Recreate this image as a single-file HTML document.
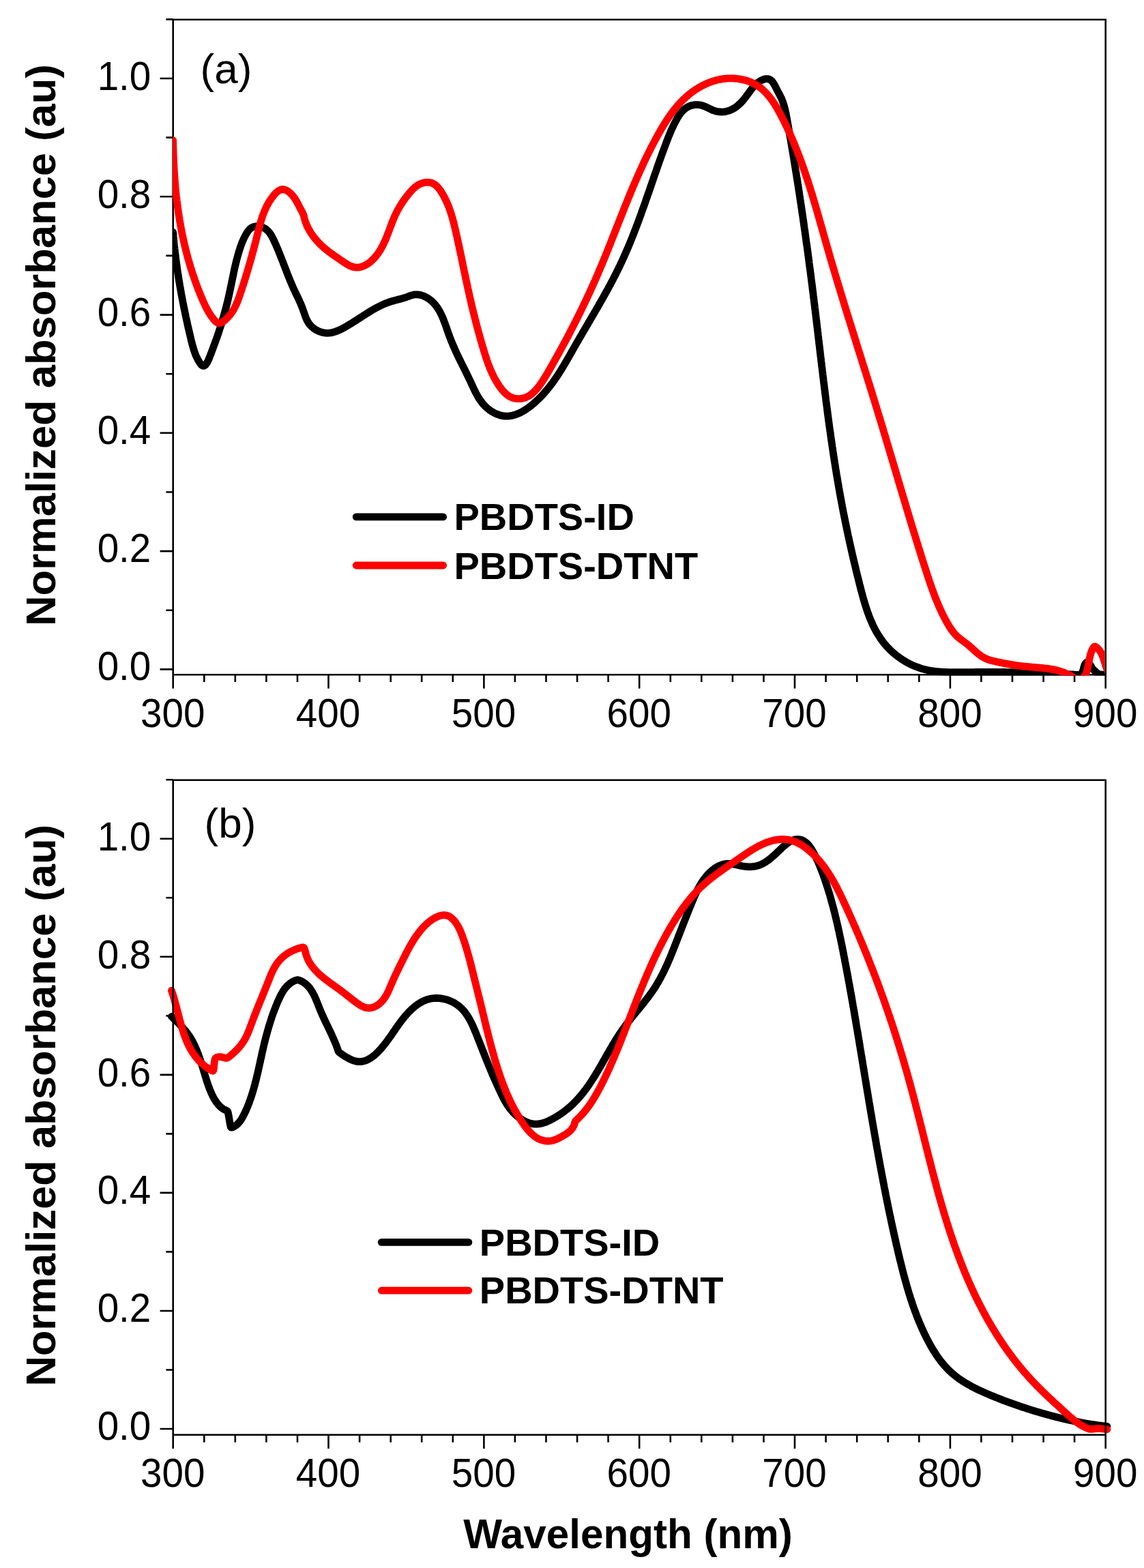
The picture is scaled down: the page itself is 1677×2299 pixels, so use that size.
<!DOCTYPE html>
<html lang="en"><head><meta charset="utf-8"><title>Normalized absorbance spectra</title>
<style>html,body{margin:0;padding:0;background:#fff}body{width:1677px;height:2299px;overflow:hidden}svg{display:block}text{font-family:"Liberation Sans",sans-serif;fill:#000}.b{font-weight:bold}</style></head><body>
<svg width="1677" height="2299" viewBox="0 0 1677 2299">
<rect width="1677" height="2299" fill="#fff"/>
<defs><clipPath id="ca"><rect x="253.0" y="28.8" width="1366.6" height="961.6"/></clipPath></defs>
<g id="plot-a">
<path d="M253.7,28.8 H1620.7 V989.2 H253.7 Z M253.7,989.2 v20.3 M299.3,989.2 v10.9 M344.8,989.2 v10.9 M390.4,989.2 v10.9 M436.0,989.2 v10.9 M481.5,989.2 v20.3 M527.1,989.2 v10.9 M572.7,989.2 v10.9 M618.2,989.2 v10.9 M663.8,989.2 v10.9 M709.4,989.2 v20.3 M754.9,989.2 v10.9 M800.5,989.2 v10.9 M846.1,989.2 v10.9 M891.6,989.2 v10.9 M937.2,989.2 v20.3 M982.8,989.2 v10.9 M1028.3,989.2 v10.9 M1073.9,989.2 v10.9 M1119.5,989.2 v10.9 M1165.0,989.2 v20.3 M1210.6,989.2 v10.9 M1256.2,989.2 v10.9 M1301.7,989.2 v10.9 M1347.3,989.2 v10.9 M1392.9,989.2 v20.3 M1438.4,989.2 v10.9 M1484.0,989.2 v10.9 M1529.6,989.2 v10.9 M1575.1,989.2 v10.9 M1620.7,989.2 v20.3 M253.7,981.4 h-19.1 M253.7,894.8 h-10.3 M253.7,808.1 h-19.1 M253.7,721.5 h-10.3 M253.7,634.8 h-19.1 M253.7,548.2 h-10.3 M253.7,461.6 h-19.1 M253.7,374.9 h-10.3 M253.7,288.3 h-19.1 M253.7,201.6 h-10.3 M253.7,115.0 h-19.1 M253.7,28.4 h-10.3" fill="none" stroke="#000" stroke-width="2.6" stroke-linecap="butt" stroke-linejoin="miter"/>
<g fill="none" stroke-width="10.8" stroke-linejoin="round" stroke-linecap="round" clip-path="url(#ca)">
<path stroke="#000" d="M253.7,340.5 L253.8,342.0 L254.0,343.5 L254.1,345.0 L254.2,346.6 L254.4,348.1 L254.5,349.6 L254.6,351.1 L254.8,352.6 L254.9,354.1 L255.1,355.6 L255.2,357.1 L255.4,358.6 L255.5,360.1 L255.7,361.6 L255.9,363.1 L256.0,364.6 L256.2,366.1 L256.4,367.6 L256.5,369.0 L256.7,370.5 L256.9,372.0 L257.1,373.5 L257.2,375.0 L257.4,376.5 L257.6,378.0 L257.8,379.5 L258.0,380.9 L258.2,382.4 L258.4,383.9 L258.6,385.4 L258.8,386.9 L259.0,388.3 L259.2,389.8 L259.4,391.3 L259.6,392.8 L259.8,394.2 L260.0,395.7 L260.2,397.2 L260.5,398.7 L260.7,400.1 L260.9,401.6 L261.1,403.1 L261.4,404.6 L261.6,406.0 L261.8,407.5 L262.0,409.0 L262.3,410.4 L262.5,411.9 L262.8,413.4 L263.0,414.9 L263.3,416.3 L263.5,417.8 L263.7,419.3 L264.0,420.7 L264.3,422.2 L264.5,423.7 L264.8,425.1 L265.0,426.6 L265.3,428.1 L265.6,429.5 L265.8,431.0 L266.1,432.5 L266.4,433.9 L266.6,435.4 L266.9,436.9 L267.2,438.3 L267.5,439.8 L267.8,441.3 L268.0,442.7 L268.3,444.2 L268.6,445.7 L268.9,447.1 L269.2,448.6 L269.5,450.1 L269.8,451.6 L270.1,453.0 L270.4,454.5 L270.7,456.0 L271.0,457.4 L271.3,458.9 L271.6,460.4 L271.9,461.8 L272.2,463.3 L272.5,464.8 L272.9,466.3 L273.2,467.7 L273.5,469.2 L273.8,470.7 L274.2,472.2 L274.5,473.6 L274.8,475.1 L275.1,476.6 L275.5,478.1 L275.8,479.6 L276.1,481.0 L276.5,482.5 L276.8,484.0 L277.2,485.5 L277.5,487.0 L277.9,488.5 L278.2,489.9 L278.6,491.4 L278.9,492.9 L279.3,494.4 L279.6,495.9 L280.0,497.4 L280.3,498.9 L280.7,500.4 L281.1,501.9 L281.5,503.4 L281.8,504.9 L282.2,506.3 L282.6,507.8 L283.1,509.3 L283.5,510.8 L283.9,512.2 L284.4,513.7 L284.9,515.2 L285.4,516.6 L285.9,518.0 L286.5,519.5 L287.0,520.9 L287.6,522.3 L288.3,523.7 L288.9,525.0 L289.6,526.4 L290.3,527.8 L291.1,529.1 L291.9,530.4 L292.7,531.7 L293.6,533.0 L294.4,534.1 L295.4,535.1 L296.3,535.9 L297.2,536.4 L298.2,536.5 L299.2,536.4 L300.1,535.9 L301.0,535.1 L302.0,534.1 L302.8,532.9 L303.7,531.5 L304.5,530.0 L305.3,528.3 L306.1,526.6 L306.8,524.8 L307.5,523.1 L308.1,521.3 L308.8,519.6 L309.4,518.0 L310.0,516.5 L310.5,515.0 L311.1,513.6 L311.6,512.2 L312.1,510.8 L312.6,509.5 L313.1,508.1 L313.6,506.8 L314.1,505.4 L314.6,504.1 L315.1,502.7 L315.6,501.3 L316.1,500.0 L316.6,498.6 L317.1,497.2 L317.6,495.8 L318.1,494.5 L318.6,493.1 L319.0,491.7 L319.5,490.3 L320.0,488.9 L320.5,487.5 L320.9,486.1 L321.4,484.6 L321.8,483.2 L322.3,481.8 L322.8,480.4 L323.2,479.0 L323.7,477.5 L324.1,476.1 L324.6,474.7 L325.0,473.2 L325.4,471.8 L325.9,470.3 L326.3,468.9 L326.7,467.5 L327.2,466.0 L327.6,464.6 L328.0,463.1 L328.4,461.6 L328.8,460.2 L329.2,458.7 L329.6,457.3 L330.0,455.8 L330.4,454.4 L330.8,452.9 L331.2,451.4 L331.6,450.0 L331.9,448.5 L332.3,447.0 L332.7,445.6 L333.0,444.1 L333.4,442.6 L333.8,441.2 L334.1,439.7 L334.5,438.2 L334.8,436.8 L335.1,435.3 L335.5,433.8 L335.8,432.4 L336.1,430.9 L336.4,429.4 L336.7,428.0 L337.1,426.5 L337.4,425.0 L337.7,423.6 L338.0,422.1 L338.3,420.6 L338.6,419.2 L338.9,417.7 L339.2,416.3 L339.5,414.8 L339.8,413.3 L340.1,411.9 L340.4,410.4 L340.7,408.9 L341.0,407.5 L341.3,406.0 L341.6,404.6 L341.9,403.1 L342.2,401.7 L342.5,400.2 L342.8,398.7 L343.1,397.3 L343.4,395.8 L343.7,394.4 L344.1,392.9 L344.4,391.5 L344.7,390.0 L345.1,388.6 L345.4,387.1 L345.8,385.7 L346.1,384.2 L346.5,382.8 L346.8,381.3 L347.2,379.9 L347.6,378.4 L348.0,377.0 L348.4,375.5 L348.8,374.1 L349.2,372.7 L349.6,371.2 L350.0,369.8 L350.5,368.3 L350.9,366.9 L351.4,365.5 L351.8,364.0 L352.3,362.6 L352.8,361.2 L353.3,359.7 L353.8,358.3 L354.4,356.9 L354.9,355.5 L355.5,354.1 L356.1,352.7 L356.7,351.3 L357.3,349.9 L358.0,348.5 L358.7,347.2 L359.4,345.8 L360.1,344.5 L360.9,343.2 L361.7,341.8 L362.5,340.5 L363.3,339.3 L364.2,338.1 L365.2,336.9 L366.2,335.8 L367.3,334.9 L368.5,334.1 L369.8,333.4 L371.1,332.8 L372.6,332.4 L374.0,332.1 L375.5,331.9 L377.0,331.9 L378.6,331.9 L380.1,332.1 L381.6,332.3 L383.1,332.7 L384.5,333.2 L385.9,333.7 L387.2,334.4 L388.5,335.1 L389.7,335.9 L390.8,336.8 L391.9,337.7 L392.9,338.7 L393.8,339.8 L394.8,340.9 L395.6,342.1 L396.5,343.3 L397.3,344.6 L398.1,345.8 L398.8,347.2 L399.5,348.5 L400.2,349.9 L400.9,351.2 L401.5,352.6 L402.2,354.0 L402.8,355.4 L403.5,356.8 L404.1,358.2 L404.7,359.6 L405.3,361.0 L405.9,362.4 L406.5,363.8 L407.1,365.2 L407.7,366.6 L408.3,368.0 L408.8,369.4 L409.4,370.8 L410.0,372.2 L410.5,373.6 L411.1,375.0 L411.6,376.4 L412.2,377.8 L412.7,379.2 L413.3,380.6 L413.8,382.0 L414.4,383.3 L414.9,384.7 L415.4,386.1 L416.0,387.5 L416.5,388.9 L417.1,390.3 L417.6,391.7 L418.1,393.1 L418.7,394.5 L419.2,395.9 L419.7,397.3 L420.3,398.7 L420.8,400.0 L421.3,401.4 L421.9,402.8 L422.4,404.2 L423.0,405.6 L423.5,407.0 L424.1,408.3 L424.7,409.7 L425.2,411.1 L425.8,412.5 L426.4,413.8 L426.9,415.2 L427.5,416.6 L428.1,417.9 L428.7,419.3 L429.3,420.7 L429.9,422.0 L430.5,423.4 L431.1,424.7 L431.8,426.1 L432.4,427.4 L433.0,428.8 L433.7,430.1 L434.3,431.5 L435.0,432.9 L435.6,434.2 L436.3,435.6 L436.9,436.9 L437.6,438.3 L438.2,439.6 L438.8,441.0 L439.4,442.4 L440.1,443.8 L440.7,445.1 L441.2,446.5 L441.8,447.9 L442.4,449.3 L442.9,450.7 L443.5,452.1 L444.0,453.6 L444.5,455.0 L445.0,456.4 L445.5,457.9 L446.0,459.3 L446.5,460.8 L447.0,462.2 L447.5,463.6 L448.0,465.0 L448.6,466.4 L449.2,467.7 L449.8,469.1 L450.5,470.4 L451.2,471.7 L452.0,473.0 L452.8,474.2 L453.7,475.4 L454.6,476.5 L455.6,477.6 L456.7,478.7 L457.8,479.7 L459.0,480.7 L460.2,481.6 L461.4,482.5 L462.7,483.3 L464.0,484.1 L465.3,484.8 L466.7,485.4 L468.1,486.0 L469.5,486.5 L470.9,487.0 L472.3,487.4 L473.8,487.7 L475.3,488.0 L476.7,488.2 L478.2,488.3 L479.6,488.4 L481.1,488.3 L482.5,488.2 L484.0,488.1 L485.4,487.9 L486.8,487.6 L488.3,487.2 L489.7,486.8 L491.1,486.4 L492.5,485.9 L493.9,485.4 L495.3,484.8 L496.7,484.2 L498.1,483.6 L499.5,482.9 L500.9,482.3 L502.2,481.5 L503.6,480.8 L505.0,480.1 L506.3,479.3 L507.6,478.5 L509.0,477.8 L510.3,477.0 L511.6,476.2 L512.9,475.4 L514.2,474.6 L515.5,473.8 L516.8,473.0 L518.1,472.2 L519.4,471.4 L520.7,470.6 L522.0,469.7 L523.2,468.9 L524.5,468.1 L525.8,467.3 L527.0,466.5 L528.3,465.6 L529.6,464.8 L530.8,464.0 L532.1,463.2 L533.3,462.4 L534.6,461.6 L535.9,460.8 L537.1,460.0 L538.4,459.2 L539.7,458.4 L540.9,457.6 L542.2,456.8 L543.5,456.1 L544.7,455.3 L546.0,454.5 L547.3,453.8 L548.6,453.1 L549.9,452.3 L551.2,451.6 L552.5,450.9 L553.8,450.2 L555.1,449.6 L556.4,448.9 L557.7,448.3 L559.0,447.6 L560.4,447.0 L561.7,446.4 L563.1,445.8 L564.4,445.2 L565.8,444.7 L567.2,444.1 L568.6,443.6 L570.0,443.1 L571.4,442.6 L572.8,442.1 L574.2,441.7 L575.7,441.3 L577.1,440.8 L578.6,440.5 L580.1,440.1 L581.6,439.7 L583.0,439.3 L584.5,438.9 L586.0,438.6 L587.5,438.2 L589.0,437.8 L590.5,437.4 L591.9,436.9 L593.4,436.5 L594.9,436.0 L596.3,435.5 L597.8,435.0 L599.2,434.4 L600.7,433.9 L602.1,433.3 L603.5,432.9 L605.0,432.5 L606.4,432.2 L607.9,431.9 L609.3,431.8 L610.8,431.8 L612.3,431.9 L613.8,432.1 L615.2,432.3 L616.7,432.6 L618.1,433.0 L619.6,433.5 L621.0,434.0 L622.3,434.6 L623.7,435.3 L625.0,436.0 L626.3,436.7 L627.6,437.5 L628.8,438.3 L630.0,439.2 L631.2,440.1 L632.3,441.0 L633.4,442.0 L634.4,443.0 L635.4,444.0 L636.4,445.0 L637.4,446.1 L638.3,447.2 L639.2,448.4 L640.0,449.5 L640.9,450.7 L641.7,451.9 L642.5,453.1 L643.2,454.4 L644.0,455.6 L644.7,456.9 L645.4,458.2 L646.1,459.6 L646.7,460.9 L647.4,462.3 L648.0,463.6 L648.6,465.0 L649.2,466.4 L649.8,467.8 L650.3,469.2 L650.9,470.7 L651.4,472.1 L652.0,473.5 L652.5,475.0 L653.0,476.4 L653.6,477.9 L654.1,479.3 L654.6,480.8 L655.1,482.3 L655.6,483.7 L656.1,485.2 L656.6,486.7 L657.1,488.1 L657.6,489.6 L658.2,491.0 L658.7,492.5 L659.2,493.9 L659.8,495.3 L660.3,496.7 L660.9,498.2 L661.4,499.6 L662.0,501.0 L662.6,502.4 L663.1,503.8 L663.7,505.1 L664.3,506.5 L664.9,507.9 L665.5,509.3 L666.1,510.6 L666.7,512.0 L667.3,513.3 L667.9,514.7 L668.5,516.0 L669.2,517.4 L669.8,518.7 L670.4,520.1 L671.1,521.4 L671.7,522.7 L672.3,524.1 L673.0,525.4 L673.6,526.7 L674.3,528.1 L674.9,529.4 L675.6,530.7 L676.2,532.0 L676.9,533.3 L677.5,534.7 L678.2,536.0 L678.9,537.3 L679.5,538.6 L680.2,540.0 L680.8,541.3 L681.5,542.6 L682.2,543.9 L682.8,545.3 L683.5,546.6 L684.1,547.9 L684.8,549.3 L685.4,550.6 L686.1,551.9 L686.7,553.3 L687.4,554.6 L688.0,556.0 L688.7,557.3 L689.3,558.7 L690.0,560.1 L690.6,561.4 L691.2,562.8 L691.9,564.2 L692.5,565.6 L693.1,566.9 L693.8,568.3 L694.4,569.7 L695.1,571.1 L695.7,572.4 L696.4,573.8 L697.1,575.1 L697.8,576.5 L698.5,577.8 L699.2,579.2 L700.0,580.5 L700.7,581.8 L701.5,583.1 L702.3,584.4 L703.1,585.6 L704.0,586.9 L704.9,588.1 L705.8,589.3 L706.7,590.5 L707.7,591.7 L708.6,592.9 L709.7,594.0 L710.7,595.1 L711.8,596.2 L712.9,597.2 L714.1,598.3 L715.3,599.3 L716.5,600.2 L717.7,601.2 L719.0,602.1 L720.2,602.9 L721.6,603.7 L722.9,604.5 L724.2,605.3 L725.6,605.9 L726.9,606.6 L728.3,607.2 L729.7,607.7 L731.1,608.2 L732.5,608.7 L733.9,609.1 L735.3,609.4 L736.7,609.7 L738.1,609.9 L739.5,610.0 L740.9,610.1 L742.4,610.2 L743.8,610.1 L745.2,610.1 L746.6,609.9 L748.0,609.8 L749.3,609.5 L750.7,609.3 L752.1,608.9 L753.5,608.6 L754.9,608.2 L756.2,607.7 L757.6,607.2 L759.0,606.7 L760.3,606.1 L761.7,605.5 L763.0,604.9 L764.3,604.2 L765.7,603.5 L767.0,602.7 L768.3,601.9 L769.6,601.1 L770.9,600.3 L772.2,599.4 L773.4,598.6 L774.7,597.7 L775.9,596.7 L777.2,595.8 L778.4,594.8 L779.6,593.8 L780.9,592.8 L782.0,591.8 L783.2,590.8 L784.4,589.7 L785.6,588.7 L786.7,587.6 L787.8,586.6 L789.0,585.5 L790.1,584.4 L791.2,583.3 L792.2,582.2 L793.3,581.1 L794.4,580.0 L795.4,578.9 L796.4,577.8 L797.5,576.6 L798.5,575.5 L799.5,574.3 L800.4,573.2 L801.4,572.0 L802.4,570.9 L803.3,569.7 L804.3,568.5 L805.2,567.4 L806.1,566.2 L807.1,565.0 L808.0,563.8 L808.9,562.6 L809.8,561.4 L810.6,560.2 L811.5,559.0 L812.4,557.8 L813.2,556.5 L814.1,555.3 L814.9,554.1 L815.8,552.9 L816.6,551.6 L817.4,550.4 L818.2,549.1 L819.0,547.9 L819.8,546.6 L820.6,545.4 L821.4,544.1 L822.2,542.9 L823.0,541.6 L823.8,540.3 L824.5,539.1 L825.3,537.8 L826.1,536.5 L826.8,535.2 L827.6,534.0 L828.4,532.7 L829.1,531.4 L829.9,530.1 L830.6,528.8 L831.4,527.5 L832.1,526.3 L832.8,525.0 L833.6,523.7 L834.3,522.4 L835.1,521.1 L835.8,519.8 L836.5,518.5 L837.3,517.2 L838.0,515.9 L838.7,514.6 L839.5,513.3 L840.2,512.0 L840.9,510.7 L841.7,509.4 L842.4,508.1 L843.2,506.8 L843.9,505.5 L844.6,504.2 L845.4,502.9 L846.1,501.7 L846.9,500.4 L847.6,499.1 L848.4,497.8 L849.1,496.5 L849.9,495.2 L850.6,493.9 L851.4,492.6 L852.1,491.3 L852.9,490.0 L853.6,488.7 L854.4,487.4 L855.2,486.1 L855.9,484.8 L856.7,483.5 L857.4,482.3 L858.2,481.0 L858.9,479.7 L859.7,478.4 L860.5,477.1 L861.2,475.8 L862.0,474.5 L862.7,473.2 L863.5,471.9 L864.3,470.6 L865.0,469.3 L865.8,468.0 L866.5,466.7 L867.3,465.4 L868.1,464.1 L868.8,462.8 L869.6,461.5 L870.3,460.2 L871.1,458.9 L871.8,457.6 L872.6,456.3 L873.3,455.0 L874.1,453.7 L874.9,452.4 L875.6,451.1 L876.4,449.8 L877.1,448.5 L877.9,447.2 L878.6,445.9 L879.3,444.6 L880.1,443.3 L880.8,442.0 L881.6,440.7 L882.3,439.4 L883.1,438.1 L883.8,436.8 L884.5,435.5 L885.3,434.2 L886.0,432.9 L886.7,431.6 L887.5,430.2 L888.2,428.9 L888.9,427.6 L889.6,426.3 L890.4,425.0 L891.1,423.7 L891.8,422.3 L892.5,421.0 L893.2,419.7 L893.9,418.4 L894.7,417.1 L895.4,415.7 L896.1,414.4 L896.8,413.1 L897.5,411.8 L898.2,410.4 L898.9,409.1 L899.5,407.8 L900.2,406.4 L900.9,405.1 L901.6,403.8 L902.3,402.4 L903.0,401.1 L903.6,399.7 L904.3,398.4 L905.0,397.1 L905.6,395.7 L906.3,394.4 L907.0,393.0 L907.6,391.7 L908.3,390.3 L908.9,389.0 L909.6,387.6 L910.2,386.3 L910.8,384.9 L911.5,383.6 L912.1,382.2 L912.7,380.8 L913.3,379.5 L914.0,378.1 L914.6,376.7 L915.2,375.4 L915.8,374.0 L916.4,372.6 L917.0,371.3 L917.6,369.9 L918.2,368.5 L918.8,367.1 L919.4,365.8 L920.0,364.4 L920.6,363.0 L921.2,361.6 L921.7,360.2 L922.3,358.9 L922.9,357.5 L923.5,356.1 L924.0,354.7 L924.6,353.3 L925.2,351.9 L925.7,350.5 L926.3,349.2 L926.8,347.8 L927.4,346.4 L927.9,345.0 L928.5,343.6 L929.0,342.2 L929.6,340.8 L930.1,339.4 L930.7,338.0 L931.2,336.6 L931.8,335.2 L932.3,333.8 L932.8,332.4 L933.4,331.0 L933.9,329.6 L934.4,328.2 L934.9,326.8 L935.5,325.4 L936.0,324.0 L936.5,322.6 L937.0,321.1 L937.5,319.7 L938.1,318.3 L938.6,316.9 L939.1,315.5 L939.6,314.1 L940.1,312.7 L940.6,311.3 L941.1,309.9 L941.6,308.4 L942.1,307.0 L942.6,305.6 L943.2,304.2 L943.7,302.8 L944.2,301.4 L944.7,300.0 L945.2,298.5 L945.7,297.1 L946.2,295.7 L946.6,294.3 L947.1,292.9 L947.6,291.5 L948.1,290.0 L948.6,288.6 L949.1,287.2 L949.6,285.8 L950.1,284.4 L950.6,283.0 L951.1,281.5 L951.6,280.1 L952.1,278.7 L952.6,277.3 L953.1,275.9 L953.5,274.5 L954.0,273.0 L954.5,271.6 L955.0,270.2 L955.5,268.8 L956.0,267.4 L956.5,265.9 L957.0,264.5 L957.5,263.1 L957.9,261.7 L958.4,260.3 L958.9,258.9 L959.4,257.4 L959.9,256.0 L960.4,254.6 L960.9,253.2 L961.4,251.8 L961.9,250.4 L962.4,248.9 L962.8,247.5 L963.3,246.1 L963.8,244.7 L964.3,243.3 L964.8,241.9 L965.3,240.5 L965.8,239.1 L966.3,237.6 L966.8,236.2 L967.3,234.8 L967.8,233.4 L968.3,232.0 L968.8,230.6 L969.3,229.2 L969.8,227.8 L970.3,226.4 L970.8,225.0 L971.3,223.6 L971.9,222.2 L972.4,220.8 L972.9,219.4 L973.4,218.0 L973.9,216.6 L974.4,215.2 L974.9,213.8 L975.5,212.4 L976.0,211.0 L976.5,209.6 L977.0,208.2 L977.6,206.8 L978.1,205.4 L978.7,204.0 L979.2,202.6 L979.8,201.2 L980.3,199.8 L980.9,198.4 L981.5,197.0 L982.0,195.7 L982.6,194.3 L983.2,192.9 L983.8,191.5 L984.4,190.1 L985.0,188.8 L985.7,187.4 L986.3,186.0 L987.0,184.6 L987.6,183.3 L988.3,181.9 L989.0,180.5 L989.7,179.2 L990.4,177.8 L991.1,176.5 L991.9,175.1 L992.6,173.8 L993.4,172.4 L994.2,171.1 L995.0,169.8 L995.9,168.6 L996.7,167.3 L997.6,166.1 L998.6,165.0 L999.5,163.8 L1000.5,162.7 L1001.5,161.7 L1002.6,160.7 L1003.7,159.8 L1004.9,158.9 L1006.1,158.0 L1007.3,157.3 L1008.6,156.6 L1009.9,156.0 L1011.3,155.4 L1012.7,154.9 L1014.1,154.5 L1015.6,154.2 L1017.1,153.9 L1018.6,153.7 L1020.1,153.6 L1021.6,153.6 L1023.1,153.6 L1024.6,153.7 L1026.1,154.0 L1027.6,154.3 L1029.0,154.6 L1030.5,155.1 L1031.9,155.6 L1033.3,156.1 L1034.7,156.7 L1036.1,157.4 L1037.4,158.0 L1038.8,158.7 L1040.2,159.4 L1041.6,160.0 L1042.9,160.6 L1044.3,161.3 L1045.7,161.8 L1047.1,162.4 L1048.5,162.8 L1050.0,163.2 L1051.5,163.5 L1052.9,163.8 L1054.4,163.9 L1055.9,164.0 L1057.4,164.1 L1058.9,164.1 L1060.4,164.0 L1061.9,163.8 L1063.4,163.6 L1064.8,163.3 L1066.3,162.9 L1067.7,162.5 L1069.2,162.1 L1070.5,161.5 L1071.9,161.0 L1073.2,160.3 L1074.5,159.6 L1075.8,158.9 L1077.1,158.1 L1078.3,157.3 L1079.5,156.5 L1080.6,155.6 L1081.8,154.6 L1082.9,153.6 L1084.0,152.6 L1085.1,151.6 L1086.2,150.5 L1087.2,149.4 L1088.2,148.3 L1089.2,147.1 L1090.2,146.0 L1091.2,144.8 L1092.1,143.6 L1093.1,142.4 L1094.0,141.1 L1094.9,139.9 L1095.8,138.6 L1096.7,137.4 L1097.6,136.2 L1098.5,134.9 L1099.4,133.7 L1100.3,132.4 L1101.3,131.2 L1102.2,130.0 L1103.1,128.9 L1104.1,127.7 L1105.1,126.6 L1106.1,125.5 L1107.2,124.4 L1108.3,123.4 L1109.4,122.4 L1110.5,121.4 L1111.7,120.5 L1113.0,119.6 L1114.2,118.8 L1115.6,118.1 L1116.9,117.4 L1118.3,116.8 L1119.7,116.3 L1121.1,115.9 L1122.5,115.7 L1123.8,115.6 L1125.2,115.6 L1126.5,115.8 L1127.7,116.2 L1128.9,116.8 L1130.0,117.5 L1131.1,118.5 L1132.1,119.6 L1133.0,120.8 L1133.9,122.1 L1134.8,123.6 L1135.6,125.0 L1136.4,126.6 L1137.2,128.1 L1138.0,129.6 L1138.7,131.2 L1139.5,132.6 L1140.2,134.0 L1141.0,135.4 L1141.7,136.8 L1142.4,138.1 L1143.1,139.4 L1143.8,140.7 L1144.4,142.0 L1145.1,143.3 L1145.7,144.6 L1146.2,146.0 L1146.8,147.3 L1147.3,148.7 L1147.8,150.1 L1148.2,151.5 L1148.7,152.9 L1149.1,154.3 L1149.5,155.7 L1149.9,157.1 L1150.3,158.5 L1150.7,160.0 L1151.0,161.4 L1151.3,162.9 L1151.7,164.3 L1152.0,165.8 L1152.3,167.3 L1152.6,168.8 L1152.8,170.2 L1153.1,171.7 L1153.4,173.2 L1153.7,174.7 L1153.9,176.2 L1154.2,177.6 L1154.5,179.1 L1154.7,180.6 L1155.0,182.1 L1155.2,183.6 L1155.5,185.1 L1155.8,186.5 L1156.0,188.0 L1156.3,189.5 L1156.5,191.0 L1156.8,192.5 L1157.1,194.0 L1157.3,195.4 L1157.6,196.9 L1157.8,198.4 L1158.1,199.9 L1158.3,201.4 L1158.6,202.9 L1158.9,204.3 L1159.1,205.8 L1159.4,207.3 L1159.6,208.8 L1159.9,210.3 L1160.1,211.8 L1160.4,213.2 L1160.6,214.7 L1160.9,216.2 L1161.1,217.7 L1161.4,219.2 L1161.6,220.6 L1161.9,222.1 L1162.1,223.6 L1162.4,225.1 L1162.6,226.6 L1162.9,228.1 L1163.1,229.5 L1163.3,231.0 L1163.6,232.5 L1163.8,234.0 L1164.1,235.5 L1164.3,236.9 L1164.6,238.4 L1164.8,239.9 L1165.0,241.4 L1165.3,242.9 L1165.5,244.3 L1165.8,245.8 L1166.0,247.3 L1166.2,248.8 L1166.5,250.3 L1166.7,251.8 L1167.0,253.2 L1167.2,254.7 L1167.4,256.2 L1167.7,257.7 L1167.9,259.2 L1168.1,260.6 L1168.4,262.1 L1168.6,263.6 L1168.8,265.1 L1169.1,266.6 L1169.3,268.0 L1169.5,269.5 L1169.8,271.0 L1170.0,272.5 L1170.2,274.0 L1170.4,275.5 L1170.7,276.9 L1170.9,278.4 L1171.1,279.9 L1171.4,281.4 L1171.6,282.9 L1171.8,284.3 L1172.0,285.8 L1172.3,287.3 L1172.5,288.8 L1172.7,290.3 L1172.9,291.7 L1173.2,293.2 L1173.4,294.7 L1173.6,296.2 L1173.8,297.7 L1174.1,299.2 L1174.3,300.6 L1174.5,302.1 L1174.7,303.6 L1174.9,305.1 L1175.2,306.6 L1175.4,308.0 L1175.6,309.5 L1175.8,311.0 L1176.0,312.5 L1176.2,314.0 L1176.5,315.4 L1176.7,316.9 L1176.9,318.4 L1177.1,319.9 L1177.3,321.4 L1177.5,322.9 L1177.8,324.3 L1178.0,325.8 L1178.2,327.3 L1178.4,328.8 L1178.6,330.3 L1178.8,331.7 L1179.0,333.2 L1179.2,334.7 L1179.4,336.2 L1179.7,337.7 L1179.9,339.2 L1180.1,340.6 L1180.3,342.1 L1180.5,343.6 L1180.7,345.1 L1180.9,346.6 L1181.1,348.1 L1181.3,349.5 L1181.5,351.0 L1181.7,352.5 L1181.9,354.0 L1182.1,355.5 L1182.3,357.0 L1182.5,358.4 L1182.8,359.9 L1183.0,361.4 L1183.2,362.9 L1183.4,364.4 L1183.6,365.9 L1183.8,367.3 L1184.0,368.8 L1184.2,370.3 L1184.4,371.8 L1184.6,373.3 L1184.8,374.8 L1185.0,376.2 L1185.2,377.7 L1185.4,379.2 L1185.6,380.7 L1185.8,382.2 L1186.0,383.7 L1186.1,385.1 L1186.3,386.6 L1186.5,388.1 L1186.7,389.6 L1186.9,391.1 L1187.1,392.6 L1187.3,394.1 L1187.5,395.5 L1187.7,397.0 L1187.9,398.5 L1188.1,400.0 L1188.3,401.5 L1188.5,403.0 L1188.7,404.5 L1188.9,405.9 L1189.1,407.4 L1189.2,408.9 L1189.4,410.4 L1189.6,411.9 L1189.8,413.4 L1190.0,414.9 L1190.2,416.4 L1190.4,417.8 L1190.6,419.3 L1190.8,420.8 L1190.9,422.3 L1191.1,423.8 L1191.3,425.3 L1191.5,426.8 L1191.7,428.3 L1191.9,429.7 L1192.1,431.2 L1192.2,432.7 L1192.4,434.2 L1192.6,435.7 L1192.8,437.2 L1193.0,438.7 L1193.2,440.2 L1193.3,441.7 L1193.5,443.2 L1193.7,444.6 L1193.9,446.1 L1194.1,447.6 L1194.3,449.1 L1194.4,450.6 L1194.6,452.1 L1194.8,453.6 L1195.0,455.1 L1195.2,456.6 L1195.3,458.1 L1195.5,459.5 L1195.7,461.0 L1195.9,462.5 L1196.0,464.0 L1196.2,465.5 L1196.4,467.0 L1196.6,468.5 L1196.8,470.0 L1196.9,471.5 L1197.1,473.0 L1197.3,474.5 L1197.5,476.0 L1197.6,477.5 L1197.8,478.9 L1198.0,480.4 L1198.2,481.9 L1198.4,483.4 L1198.5,484.9 L1198.7,486.4 L1198.9,487.9 L1199.1,489.4 L1199.2,490.9 L1199.4,492.4 L1199.6,493.9 L1199.8,495.4 L1199.9,496.9 L1200.1,498.4 L1200.3,499.8 L1200.5,501.3 L1200.6,502.8 L1200.8,504.3 L1201.0,505.8 L1201.2,507.3 L1201.4,508.8 L1201.5,510.3 L1201.7,511.8 L1201.9,513.3 L1202.1,514.8 L1202.2,516.3 L1202.4,517.8 L1202.6,519.3 L1202.8,520.8 L1202.9,522.2 L1203.1,523.7 L1203.3,525.2 L1203.5,526.7 L1203.7,528.2 L1203.8,529.7 L1204.0,531.2 L1204.2,532.7 L1204.4,534.2 L1204.5,535.7 L1204.7,537.2 L1204.9,538.7 L1205.1,540.2 L1205.3,541.7 L1205.4,543.2 L1205.6,544.6 L1205.8,546.1 L1206.0,547.6 L1206.1,549.1 L1206.3,550.6 L1206.5,552.1 L1206.7,553.6 L1206.9,555.1 L1207.1,556.6 L1207.2,558.1 L1207.4,559.6 L1207.6,561.1 L1207.8,562.6 L1208.0,564.0 L1208.1,565.5 L1208.3,567.0 L1208.5,568.5 L1208.7,570.0 L1208.9,571.5 L1209.1,573.0 L1209.3,574.5 L1209.4,576.0 L1209.6,577.5 L1209.8,579.0 L1210.0,580.5 L1210.2,581.9 L1210.4,583.4 L1210.6,584.9 L1210.7,586.4 L1210.9,587.9 L1211.1,589.4 L1211.3,590.9 L1211.5,592.4 L1211.7,593.9 L1211.9,595.4 L1212.1,596.9 L1212.3,598.3 L1212.5,599.8 L1212.7,601.3 L1212.9,602.8 L1213.0,604.3 L1213.2,605.8 L1213.4,607.3 L1213.6,608.8 L1213.8,610.3 L1214.0,611.7 L1214.2,613.2 L1214.4,614.7 L1214.6,616.2 L1214.8,617.7 L1215.0,619.2 L1215.2,620.7 L1215.4,622.2 L1215.6,623.6 L1215.8,625.1 L1216.0,626.6 L1216.2,628.1 L1216.4,629.6 L1216.6,631.1 L1216.9,632.6 L1217.1,634.0 L1217.3,635.5 L1217.5,637.0 L1217.7,638.5 L1217.9,640.0 L1218.1,641.5 L1218.3,642.9 L1218.5,644.4 L1218.7,645.9 L1219.0,647.4 L1219.2,648.9 L1219.4,650.4 L1219.6,651.8 L1219.8,653.3 L1220.0,654.8 L1220.3,656.3 L1220.5,657.8 L1220.7,659.3 L1220.9,660.7 L1221.1,662.2 L1221.4,663.7 L1221.6,665.2 L1221.8,666.7 L1222.0,668.1 L1222.3,669.6 L1222.5,671.1 L1222.7,672.6 L1222.9,674.1 L1223.2,675.5 L1223.4,677.0 L1223.6,678.5 L1223.9,680.0 L1224.1,681.4 L1224.3,682.9 L1224.6,684.4 L1224.8,685.9 L1225.0,687.3 L1225.3,688.8 L1225.5,690.3 L1225.8,691.8 L1226.0,693.2 L1226.2,694.7 L1226.5,696.2 L1226.7,697.7 L1227.0,699.1 L1227.2,700.6 L1227.5,702.1 L1227.7,703.6 L1228.0,705.0 L1228.2,706.5 L1228.5,708.0 L1228.7,709.4 L1229.0,710.9 L1229.2,712.4 L1229.5,713.9 L1229.7,715.3 L1230.0,716.8 L1230.3,718.3 L1230.5,719.7 L1230.8,721.2 L1231.0,722.7 L1231.3,724.1 L1231.6,725.6 L1231.8,727.1 L1232.1,728.5 L1232.4,730.0 L1232.6,731.5 L1232.9,732.9 L1233.2,734.4 L1233.5,735.9 L1233.7,737.3 L1234.0,738.8 L1234.3,740.3 L1234.6,741.7 L1234.8,743.2 L1235.1,744.7 L1235.4,746.1 L1235.7,747.6 L1236.0,749.0 L1236.2,750.5 L1236.5,752.0 L1236.8,753.4 L1237.1,754.9 L1237.4,756.4 L1237.7,757.8 L1238.0,759.3 L1238.3,760.7 L1238.6,762.2 L1238.9,763.7 L1239.2,765.1 L1239.5,766.6 L1239.8,768.1 L1240.1,769.5 L1240.4,771.0 L1240.7,772.4 L1241.0,773.9 L1241.3,775.4 L1241.6,776.8 L1241.9,778.3 L1242.2,779.8 L1242.5,781.2 L1242.8,782.7 L1243.1,784.1 L1243.4,785.6 L1243.8,787.1 L1244.1,788.5 L1244.4,790.0 L1244.7,791.5 L1245.0,792.9 L1245.3,794.4 L1245.7,795.8 L1246.0,797.3 L1246.3,798.8 L1246.6,800.2 L1247.0,801.7 L1247.3,803.2 L1247.6,804.6 L1248.0,806.1 L1248.3,807.6 L1248.6,809.0 L1249.0,810.5 L1249.3,812.0 L1249.6,813.4 L1250.0,814.9 L1250.3,816.4 L1250.6,817.8 L1251.0,819.3 L1251.3,820.8 L1251.7,822.2 L1252.0,823.7 L1252.4,825.2 L1252.7,826.6 L1253.1,828.1 L1253.4,829.6 L1253.8,831.0 L1254.1,832.5 L1254.5,834.0 L1254.8,835.4 L1255.2,836.9 L1255.5,838.4 L1255.9,839.9 L1256.3,841.3 L1256.6,842.8 L1257.0,844.3 L1257.4,845.8 L1257.7,847.2 L1258.1,848.7 L1258.5,850.2 L1258.8,851.7 L1259.2,853.1 L1259.6,854.6 L1259.9,856.1 L1260.3,857.6 L1260.7,859.0 L1261.1,860.5 L1261.4,862.0 L1261.8,863.5 L1262.2,865.0 L1262.6,866.4 L1263.0,867.9 L1263.4,869.4 L1263.8,870.9 L1264.2,872.3 L1264.6,873.8 L1265.0,875.3 L1265.4,876.8 L1265.8,878.2 L1266.2,879.7 L1266.7,881.2 L1267.1,882.6 L1267.5,884.1 L1268.0,885.5 L1268.4,887.0 L1268.9,888.4 L1269.3,889.9 L1269.8,891.3 L1270.3,892.8 L1270.8,894.2 L1271.2,895.6 L1271.7,897.1 L1272.2,898.5 L1272.8,899.9 L1273.3,901.3 L1273.8,902.7 L1274.3,904.1 L1274.9,905.5 L1275.4,906.9 L1276.0,908.3 L1276.6,909.7 L1277.2,911.0 L1277.8,912.4 L1278.4,913.8 L1279.0,915.1 L1279.6,916.5 L1280.2,917.8 L1280.9,919.1 L1281.6,920.5 L1282.2,921.8 L1282.9,923.1 L1283.6,924.4 L1284.3,925.7 L1285.0,927.0 L1285.8,928.2 L1286.5,929.5 L1287.3,930.7 L1288.1,932.0 L1288.9,933.2 L1289.7,934.5 L1290.5,935.7 L1291.3,936.9 L1292.2,938.1 L1293.0,939.3 L1293.9,940.5 L1294.8,941.6 L1295.7,942.8 L1296.6,943.9 L1297.6,945.1 L1298.6,946.2 L1299.5,947.3 L1300.5,948.4 L1301.5,949.5 L1302.6,950.5 L1303.6,951.6 L1304.6,952.7 L1305.7,953.7 L1306.8,954.7 L1307.9,955.7 L1309.0,956.7 L1310.1,957.7 L1311.3,958.7 L1312.4,959.6 L1313.6,960.6 L1314.8,961.5 L1316.0,962.4 L1317.2,963.3 L1318.4,964.2 L1319.6,965.0 L1320.8,965.9 L1322.1,966.7 L1323.3,967.5 L1324.6,968.3 L1325.9,969.1 L1327.2,969.9 L1328.5,970.6 L1329.8,971.4 L1331.1,972.1 L1332.4,972.8 L1333.8,973.5 L1335.1,974.1 L1336.5,974.8 L1337.8,975.4 L1339.2,976.0 L1340.6,976.6 L1342.0,977.1 L1343.4,977.7 L1344.8,978.2 L1346.2,978.7 L1347.6,979.2 L1349.0,979.7 L1350.4,980.1 L1351.8,980.6 L1353.3,981.0 L1354.7,981.3 L1356.2,981.7 L1357.6,982.0 L1359.1,982.4 L1360.5,982.7 L1362.0,983.0 L1363.4,983.2 L1364.9,983.5 L1366.4,983.7 L1367.8,983.9 L1369.3,984.1 L1370.8,984.3 L1372.3,984.5 L1373.8,984.6 L1375.3,984.8 L1376.8,984.9 L1378.3,985.0 L1379.8,985.1 L1381.3,985.2 L1382.8,985.3 L1384.3,985.4 L1385.8,985.5 L1387.3,985.5 L1388.8,985.6 L1390.3,985.6 L1391.8,985.6 L1393.3,985.7 L1394.8,985.7 L1396.4,985.7 L1397.9,985.7 L1399.4,985.7 L1400.9,985.7 L1402.4,985.7 L1403.9,985.7 L1405.4,985.7 L1407.0,985.7 L1408.5,985.7 L1410.0,985.7 L1411.5,985.7 L1413.0,985.6 L1414.5,985.6 L1416.0,985.6 L1417.6,985.6 L1419.1,985.6 L1420.6,985.6 L1422.1,985.6 L1423.6,985.6 L1425.1,985.6 L1426.6,985.6 L1428.1,985.6 L1429.6,985.5 L1431.1,985.5 L1432.6,985.5 L1434.1,985.5 L1435.6,985.5 L1437.1,985.5 L1438.6,985.5 L1440.1,985.5 L1441.6,985.5 L1443.1,985.5 L1444.6,985.5 L1446.1,985.5 L1447.6,985.5 L1449.1,985.5 L1450.6,985.5 L1452.1,985.5 L1453.6,985.5 L1455.1,985.5 L1456.6,985.5 L1458.1,985.5 L1459.6,985.5 L1461.1,985.5 L1462.6,985.5 L1464.1,985.5 L1465.6,985.5 L1467.1,985.5 L1468.6,985.5 L1470.1,985.5 L1471.6,985.5 L1473.1,985.5 L1474.6,985.5 L1476.1,985.6 L1477.6,985.6 L1479.1,985.6 L1480.5,985.6 L1482.0,985.6 L1483.5,985.6 L1485.0,985.6 L1486.5,985.7 L1488.0,985.7 L1489.5,985.7 L1491.0,985.7 L1492.5,985.7 L1494.0,985.8 L1495.5,985.8 L1497.0,985.8 L1498.5,985.8 L1499.9,985.9 L1501.4,985.9 L1502.9,985.9 L1504.4,986.0 L1505.9,986.0 L1507.4,986.0 L1508.9,986.1 L1510.4,986.1 L1511.9,986.1 L1513.4,986.2 L1514.9,986.2 L1516.3,986.3 L1517.8,986.3 L1519.3,986.3 L1520.8,986.4 L1522.3,986.4 L1523.8,986.5 L1525.3,986.5 L1526.8,986.6 L1528.3,986.6 L1529.8,986.7 L1531.3,986.7 L1532.8,986.8 L1534.3,986.9 L1535.8,986.9 L1537.2,987.0 L1538.7,987.1 L1540.2,987.1 L1541.7,987.2 L1543.2,987.3 L1544.7,987.3 L1546.2,987.4 L1547.7,987.5 L1549.2,987.6 L1550.7,987.6 L1552.2,987.7 L1553.7,987.8 L1555.2,987.9 L1556.7,988.0 L1558.2,988.1 L1559.7,988.1 L1561.2,988.2 L1562.7,988.3 L1564.2,988.4 L1565.7,988.5 L1567.2,988.6 L1568.7,988.7 L1570.2,988.8 L1571.7,988.9 L1573.2,989.0 L1574.7,989.1 L1576.2,989.3 L1577.7,989.4 L1579.2,989.5 L1580.7,989.6 L1582.2,989.7 L1583.6,989.4 L1584.6,988.6 L1585.5,987.3 L1586.3,986.0 L1586.9,984.7 L1587.5,983.4 L1588.0,981.9 L1588.4,980.5 L1588.7,979.0 L1589.1,977.5 L1589.6,976.1 L1590.1,974.7 L1590.8,973.4 L1591.6,972.2 L1592.6,971.2 L1593.8,971.2 L1595.1,971.8 L1596.2,972.8 L1597.3,973.8 L1598.2,975.0 L1599.1,976.2 L1599.8,977.6 L1600.6,979.0 L1601.4,980.3 L1602.4,981.4 L1603.5,982.5 L1604.6,983.5 L1605.7,984.5 L1606.8,985.5 L1608.0,986.5 L1609.2,987.4 L1610.5,988.0 L1611.9,988.5 L1613.4,988.8 L1614.9,989.1 L1616.4,989.2 L1617.9,989.2 L1619.4,989.2 L1620.9,989.2 L1622.4,989.2 L1623.9,989.2 L1624.9,989.2"/>
<path stroke="#f00" d="M253.7,205.7 L253.7,207.2 L253.7,208.7 L253.8,210.2 L253.8,211.7 L253.8,213.2 L253.9,214.7 L253.9,216.2 L253.9,217.8 L254.0,219.3 L254.0,220.8 L254.1,222.3 L254.1,223.8 L254.1,225.3 L254.2,226.8 L254.3,228.3 L254.3,229.8 L254.4,231.3 L254.4,232.8 L254.5,234.3 L254.6,235.8 L254.6,237.3 L254.7,238.8 L254.8,240.3 L254.8,241.8 L254.9,243.3 L255.0,244.8 L255.1,246.3 L255.2,247.8 L255.3,249.3 L255.3,250.8 L255.4,252.3 L255.5,253.8 L255.6,255.3 L255.7,256.8 L255.8,258.3 L255.9,259.8 L256.1,261.3 L256.2,262.8 L256.3,264.3 L256.4,265.8 L256.5,267.3 L256.6,268.8 L256.8,270.3 L256.9,271.8 L257.0,273.2 L257.2,274.7 L257.3,276.2 L257.5,277.7 L257.6,279.2 L257.8,280.7 L257.9,282.2 L258.1,283.7 L258.2,285.2 L258.4,286.7 L258.5,288.1 L258.7,289.6 L258.9,291.1 L259.1,292.6 L259.2,294.1 L259.4,295.6 L259.6,297.1 L259.8,298.5 L260.0,300.0 L260.2,301.5 L260.4,303.0 L260.6,304.5 L260.8,306.0 L261.0,307.4 L261.2,308.9 L261.4,310.4 L261.6,311.9 L261.8,313.4 L262.1,314.8 L262.3,316.3 L262.5,317.8 L262.8,319.3 L263.0,320.7 L263.2,322.2 L263.5,323.7 L263.7,325.2 L264.0,326.6 L264.3,328.1 L264.5,329.6 L264.8,331.1 L265.0,332.5 L265.3,334.0 L265.6,335.5 L265.9,336.9 L266.2,338.4 L266.4,339.9 L266.7,341.3 L267.0,342.8 L267.3,344.3 L267.6,345.7 L267.9,347.2 L268.3,348.7 L268.6,350.1 L268.9,351.6 L269.2,353.0 L269.5,354.5 L269.9,356.0 L270.2,357.4 L270.5,358.9 L270.9,360.3 L271.2,361.8 L271.6,363.2 L271.9,364.7 L272.3,366.2 L272.7,367.6 L273.0,369.1 L273.4,370.5 L273.8,372.0 L274.2,373.4 L274.6,374.9 L274.9,376.3 L275.3,377.8 L275.7,379.2 L276.1,380.6 L276.6,382.1 L277.0,383.5 L277.4,385.0 L277.8,386.4 L278.2,387.9 L278.7,389.3 L279.1,390.7 L279.5,392.2 L280.0,393.6 L280.4,395.0 L280.9,396.5 L281.3,397.9 L281.8,399.4 L282.3,400.8 L282.7,402.2 L283.2,403.6 L283.7,405.1 L284.2,406.5 L284.7,407.9 L285.2,409.4 L285.7,410.8 L286.2,412.2 L286.7,413.6 L287.2,415.1 L287.7,416.5 L288.2,417.9 L288.8,419.3 L289.3,420.7 L289.9,422.2 L290.4,423.6 L290.9,425.0 L291.5,426.4 L292.1,427.8 L292.6,429.2 L293.2,430.7 L293.8,432.1 L294.4,433.5 L294.9,434.9 L295.5,436.3 L296.1,437.7 L296.7,439.1 L297.3,440.5 L298.0,441.9 L298.6,443.3 L299.2,444.7 L299.9,446.1 L300.5,447.5 L301.2,448.8 L301.8,450.2 L302.5,451.5 L303.2,452.9 L304.0,454.2 L304.7,455.5 L305.4,456.9 L306.2,458.2 L307.0,459.4 L307.8,460.7 L308.6,462.0 L309.5,463.2 L310.3,464.4 L311.2,465.6 L312.1,466.8 L313.0,468.0 L314.0,469.1 L315.0,470.2 L316.0,471.2 L317.1,472.2 L318.1,472.9 L319.3,473.5 L320.5,473.8 L321.7,473.8 L323.0,473.6 L324.3,473.2 L325.6,472.5 L326.9,471.7 L328.3,470.7 L329.6,469.6 L330.8,468.5 L332.0,467.3 L333.2,466.1 L334.3,464.9 L335.4,463.7 L336.5,462.5 L337.5,461.2 L338.4,460.0 L339.4,458.7 L340.2,457.4 L341.1,456.1 L341.9,454.8 L342.7,453.5 L343.4,452.2 L344.1,450.9 L344.8,449.6 L345.5,448.2 L346.1,446.9 L346.7,445.5 L347.3,444.1 L347.8,442.8 L348.4,441.4 L348.9,440.0 L349.4,438.6 L349.9,437.3 L350.4,435.9 L350.9,434.5 L351.4,433.1 L351.9,431.7 L352.4,430.3 L352.8,428.9 L353.3,427.5 L353.8,426.0 L354.2,424.6 L354.7,423.2 L355.2,421.8 L355.6,420.4 L356.1,419.0 L356.6,417.5 L357.0,416.1 L357.5,414.7 L357.9,413.3 L358.4,411.8 L358.8,410.4 L359.3,409.0 L359.7,407.5 L360.2,406.1 L360.6,404.6 L361.0,403.2 L361.5,401.8 L361.9,400.3 L362.3,398.9 L362.8,397.4 L363.2,396.0 L363.6,394.5 L364.1,393.1 L364.5,391.6 L364.9,390.2 L365.3,388.7 L365.7,387.3 L366.2,385.8 L366.6,384.4 L367.0,382.9 L367.4,381.5 L367.8,380.0 L368.2,378.6 L368.6,377.1 L369.0,375.6 L369.4,374.2 L369.8,372.7 L370.2,371.3 L370.6,369.8 L371.0,368.4 L371.4,366.9 L371.8,365.5 L372.2,364.0 L372.5,362.5 L372.9,361.1 L373.3,359.6 L373.7,358.2 L374.1,356.7 L374.4,355.3 L374.8,353.8 L375.2,352.4 L375.5,350.9 L375.9,349.5 L376.3,348.0 L376.6,346.6 L377.0,345.1 L377.4,343.7 L377.7,342.2 L378.1,340.8 L378.5,339.3 L378.8,337.9 L379.2,336.5 L379.5,335.0 L379.9,333.6 L380.3,332.1 L380.7,330.7 L381.1,329.3 L381.5,327.9 L381.9,326.4 L382.3,325.0 L382.7,323.6 L383.1,322.2 L383.6,320.8 L384.1,319.4 L384.5,317.9 L385.0,316.5 L385.5,315.1 L386.0,313.7 L386.6,312.4 L387.1,311.0 L387.7,309.6 L388.3,308.2 L388.9,306.8 L389.5,305.5 L390.1,304.1 L390.8,302.7 L391.5,301.4 L392.2,300.0 L393.0,298.7 L393.7,297.4 L394.5,296.0 L395.3,294.7 L396.2,293.4 L397.1,292.1 L398.0,290.8 L398.9,289.5 L399.9,288.2 L400.9,286.9 L401.9,285.6 L403.0,284.4 L404.1,283.3 L405.2,282.2 L406.3,281.2 L407.5,280.3 L408.7,279.5 L409.9,278.8 L411.1,278.3 L412.4,277.9 L413.6,277.7 L414.9,277.7 L416.3,277.9 L417.6,278.2 L418.9,278.7 L420.2,279.3 L421.5,280.1 L422.8,280.9 L424.0,281.9 L425.2,282.9 L426.4,284.0 L427.5,285.1 L428.5,286.3 L429.5,287.4 L430.4,288.7 L431.4,289.9 L432.2,291.2 L433.1,292.5 L433.9,293.8 L434.6,295.1 L435.4,296.4 L436.1,297.8 L436.9,299.1 L437.6,300.5 L438.3,301.8 L438.9,303.2 L439.6,304.5 L440.3,305.8 L441.0,307.1 L441.7,308.4 L442.4,309.7 L443.1,311.0 L443.7,312.3 L444.3,313.6 L444.9,315.0 L445.3,316.4 L445.7,317.8 L446.0,319.3 L446.4,320.8 L446.8,322.2 L447.2,323.6 L447.7,325.1 L448.2,326.5 L448.8,327.9 L449.3,329.3 L449.9,330.6 L450.5,332.0 L451.2,333.4 L451.9,334.7 L452.6,336.0 L453.3,337.4 L454.1,338.7 L454.8,340.0 L455.6,341.2 L456.5,342.5 L457.3,343.7 L458.2,345.0 L459.1,346.2 L460.0,347.4 L460.9,348.6 L461.8,349.8 L462.8,350.9 L463.8,352.1 L464.8,353.2 L465.8,354.3 L466.8,355.4 L467.8,356.5 L468.9,357.6 L469.9,358.6 L471.0,359.7 L472.1,360.7 L473.2,361.7 L474.3,362.7 L475.4,363.6 L476.5,364.6 L477.6,365.5 L478.7,366.4 L479.9,367.3 L481.0,368.2 L482.2,369.1 L483.4,370.0 L484.5,370.8 L485.7,371.7 L486.9,372.6 L488.1,373.4 L489.3,374.3 L490.6,375.1 L491.8,376.0 L493.1,376.8 L494.3,377.7 L495.6,378.6 L496.9,379.5 L498.2,380.4 L499.5,381.3 L500.8,382.2 L502.2,383.1 L503.5,384.0 L504.9,385.0 L506.3,385.9 L507.6,386.7 L509.0,387.6 L510.4,388.4 L511.8,389.1 L513.2,389.8 L514.6,390.4 L516.0,390.9 L517.4,391.4 L518.8,391.7 L520.2,391.9 L521.6,392.1 L522.9,392.1 L524.3,392.1 L525.7,392.0 L527.0,391.8 L528.3,391.6 L529.7,391.2 L531.0,390.8 L532.3,390.3 L533.6,389.8 L534.9,389.2 L536.1,388.5 L537.4,387.8 L538.6,387.1 L539.8,386.2 L541.0,385.4 L542.2,384.5 L543.4,383.5 L544.5,382.5 L545.6,381.5 L546.7,380.4 L547.8,379.3 L548.8,378.2 L549.9,377.0 L550.9,375.8 L551.8,374.6 L552.8,373.4 L553.7,372.2 L554.6,371.0 L555.4,369.7 L556.3,368.4 L557.1,367.1 L557.9,365.9 L558.6,364.5 L559.4,363.2 L560.1,361.9 L560.8,360.6 L561.5,359.2 L562.1,357.9 L562.8,356.5 L563.4,355.1 L564.1,353.7 L564.7,352.4 L565.3,351.0 L565.9,349.6 L566.4,348.2 L567.0,346.8 L567.6,345.4 L568.1,343.9 L568.7,342.5 L569.2,341.1 L569.7,339.7 L570.3,338.3 L570.8,336.9 L571.3,335.4 L571.9,334.0 L572.4,332.6 L572.9,331.2 L573.5,329.8 L574.0,328.4 L574.5,326.9 L575.1,325.5 L575.6,324.1 L576.2,322.8 L576.8,321.4 L577.3,320.0 L577.9,318.6 L578.5,317.3 L579.1,315.9 L579.8,314.5 L580.4,313.2 L581.1,311.9 L581.7,310.6 L582.4,309.2 L583.1,307.9 L583.8,306.6 L584.5,305.4 L585.3,304.1 L586.0,302.8 L586.8,301.5 L587.6,300.3 L588.4,299.0 L589.2,297.8 L590.0,296.5 L590.8,295.3 L591.7,294.1 L592.6,292.8 L593.5,291.6 L594.3,290.4 L595.3,289.2 L596.2,288.0 L597.1,286.8 L598.1,285.6 L599.0,284.4 L600.0,283.2 L601.0,282.0 L602.0,280.8 L603.1,279.7 L604.1,278.5 L605.2,277.4 L606.3,276.3 L607.5,275.3 L608.6,274.3 L609.8,273.4 L611.1,272.5 L612.3,271.6 L613.6,270.9 L615.0,270.2 L616.3,269.5 L617.7,269.0 L619.2,268.5 L620.6,268.1 L622.1,267.8 L623.5,267.5 L625.0,267.4 L626.4,267.3 L627.8,267.3 L629.3,267.5 L630.6,267.7 L632.0,268.0 L633.3,268.4 L634.6,269.0 L635.9,269.6 L637.1,270.3 L638.2,271.2 L639.3,272.1 L640.4,273.1 L641.4,274.2 L642.4,275.3 L643.4,276.5 L644.4,277.7 L645.3,278.9 L646.1,280.2 L647.0,281.6 L647.8,282.9 L648.6,284.2 L649.4,285.6 L650.2,286.9 L650.9,288.3 L651.6,289.6 L652.3,291.0 L653.0,292.3 L653.7,293.7 L654.3,295.1 L655.0,296.5 L655.6,297.9 L656.2,299.3 L656.8,300.7 L657.3,302.1 L657.9,303.5 L658.4,304.9 L658.9,306.3 L659.4,307.7 L659.9,309.1 L660.4,310.5 L660.9,312.0 L661.3,313.4 L661.8,314.8 L662.2,316.3 L662.6,317.7 L663.1,319.1 L663.5,320.6 L663.9,322.0 L664.2,323.5 L664.6,324.9 L665.0,326.4 L665.4,327.8 L665.7,329.3 L666.1,330.7 L666.4,332.2 L666.8,333.6 L667.1,335.1 L667.5,336.6 L667.8,338.0 L668.1,339.5 L668.5,340.9 L668.8,342.4 L669.1,343.9 L669.5,345.3 L669.8,346.8 L670.1,348.3 L670.4,349.7 L670.7,351.2 L671.1,352.7 L671.4,354.1 L671.7,355.6 L672.0,357.0 L672.3,358.5 L672.7,360.0 L673.0,361.4 L673.3,362.9 L673.6,364.4 L673.9,365.8 L674.2,367.3 L674.5,368.8 L674.8,370.2 L675.1,371.7 L675.4,373.2 L675.8,374.7 L676.1,376.1 L676.4,377.6 L676.7,379.1 L677.0,380.5 L677.3,382.0 L677.6,383.5 L677.9,384.9 L678.2,386.4 L678.5,387.9 L678.8,389.3 L679.1,390.8 L679.4,392.3 L679.7,393.7 L680.0,395.2 L680.3,396.7 L680.6,398.1 L681.0,399.6 L681.3,401.1 L681.6,402.6 L681.9,404.0 L682.2,405.5 L682.5,407.0 L682.8,408.4 L683.1,409.9 L683.4,411.4 L683.7,412.8 L684.1,414.3 L684.4,415.8 L684.7,417.2 L685.0,418.7 L685.3,420.2 L685.6,421.6 L685.9,423.1 L686.3,424.6 L686.6,426.0 L686.9,427.5 L687.2,429.0 L687.6,430.4 L687.9,431.9 L688.2,433.3 L688.5,434.8 L688.9,436.3 L689.2,437.7 L689.5,439.2 L689.9,440.7 L690.2,442.1 L690.6,443.6 L690.9,445.0 L691.2,446.5 L691.6,448.0 L691.9,449.4 L692.3,450.9 L692.6,452.3 L693.0,453.8 L693.3,455.3 L693.7,456.7 L694.0,458.2 L694.4,459.6 L694.8,461.1 L695.1,462.5 L695.5,464.0 L695.9,465.4 L696.2,466.9 L696.6,468.4 L697.0,469.8 L697.3,471.3 L697.7,472.7 L698.1,474.2 L698.5,475.6 L698.9,477.1 L699.2,478.5 L699.6,480.0 L700.0,481.4 L700.4,482.9 L700.8,484.3 L701.2,485.8 L701.6,487.2 L702.0,488.6 L702.4,490.1 L702.8,491.5 L703.2,493.0 L703.6,494.4 L704.0,495.9 L704.4,497.3 L704.8,498.8 L705.2,500.2 L705.6,501.6 L706.1,503.1 L706.5,504.5 L706.9,506.0 L707.3,507.4 L707.7,508.8 L708.2,510.3 L708.6,511.7 L709.0,513.1 L709.4,514.6 L709.9,516.0 L710.3,517.4 L710.8,518.9 L711.2,520.3 L711.7,521.7 L712.1,523.2 L712.6,524.6 L713.1,526.0 L713.5,527.4 L714.0,528.8 L714.5,530.2 L715.0,531.7 L715.5,533.1 L716.1,534.5 L716.6,535.9 L717.1,537.3 L717.7,538.7 L718.2,540.0 L718.8,541.4 L719.4,542.8 L720.0,544.2 L720.6,545.5 L721.2,546.9 L721.9,548.3 L722.5,549.6 L723.2,551.0 L723.8,552.3 L724.5,553.7 L725.2,555.0 L726.0,556.3 L726.7,557.6 L727.5,558.9 L728.2,560.2 L729.0,561.5 L729.9,562.8 L730.7,564.1 L731.5,565.4 L732.4,566.7 L733.3,567.9 L734.2,569.2 L735.1,570.4 L736.1,571.6 L737.1,572.8 L738.1,573.9 L739.1,575.0 L740.2,576.1 L741.3,577.1 L742.4,578.1 L743.5,579.0 L744.7,579.8 L745.9,580.7 L747.2,581.4 L748.5,582.1 L749.8,582.7 L751.1,583.2 L752.5,583.7 L754.0,584.0 L755.4,584.3 L756.9,584.5 L758.4,584.6 L759.9,584.7 L761.4,584.7 L762.9,584.6 L764.4,584.4 L765.9,584.1 L767.3,583.8 L768.8,583.4 L770.2,582.9 L771.5,582.4 L772.9,581.8 L774.2,581.1 L775.4,580.4 L776.7,579.6 L777.9,578.8 L779.1,577.9 L780.2,576.9 L781.3,576.0 L782.5,574.9 L783.5,573.9 L784.6,572.8 L785.6,571.7 L786.6,570.5 L787.6,569.4 L788.6,568.2 L789.5,567.0 L790.5,565.7 L791.4,564.5 L792.3,563.2 L793.1,562.0 L794.0,560.7 L794.9,559.5 L795.7,558.2 L796.5,556.9 L797.3,555.7 L798.1,554.4 L798.9,553.1 L799.7,551.8 L800.5,550.5 L801.3,549.3 L802.0,548.0 L802.8,546.7 L803.5,545.4 L804.3,544.1 L805.0,542.8 L805.8,541.5 L806.5,540.2 L807.3,538.9 L808.0,537.6 L808.7,536.3 L809.5,535.0 L810.2,533.7 L810.9,532.4 L811.7,531.1 L812.4,529.8 L813.1,528.5 L813.9,527.2 L814.6,525.9 L815.3,524.6 L816.1,523.3 L816.8,522.0 L817.5,520.7 L818.2,519.4 L819.0,518.1 L819.7,516.8 L820.4,515.5 L821.1,514.2 L821.8,512.9 L822.6,511.5 L823.3,510.2 L824.0,508.9 L824.7,507.6 L825.4,506.3 L826.1,505.0 L826.8,503.7 L827.5,502.3 L828.3,501.0 L829.0,499.7 L829.7,498.4 L830.4,497.1 L831.1,495.7 L831.8,494.4 L832.5,493.1 L833.2,491.8 L833.9,490.4 L834.6,489.1 L835.3,487.8 L835.9,486.5 L836.6,485.1 L837.3,483.8 L838.0,482.5 L838.7,481.1 L839.4,479.8 L840.1,478.5 L840.8,477.1 L841.4,475.8 L842.1,474.5 L842.8,473.1 L843.5,471.8 L844.1,470.5 L844.8,469.1 L845.5,467.8 L846.2,466.4 L846.8,465.1 L847.5,463.8 L848.2,462.4 L848.8,461.1 L849.5,459.7 L850.2,458.4 L850.8,457.0 L851.5,455.7 L852.1,454.3 L852.8,453.0 L853.5,451.7 L854.1,450.3 L854.8,449.0 L855.4,447.6 L856.1,446.2 L856.7,444.9 L857.4,443.5 L858.0,442.2 L858.6,440.8 L859.3,439.5 L859.9,438.1 L860.6,436.8 L861.2,435.4 L861.8,434.0 L862.5,432.7 L863.1,431.3 L863.7,430.0 L864.4,428.6 L865.0,427.2 L865.6,425.9 L866.2,424.5 L866.9,423.1 L867.5,421.8 L868.1,420.4 L868.7,419.0 L869.3,417.7 L869.9,416.3 L870.5,414.9 L871.2,413.6 L871.8,412.2 L872.4,410.8 L873.0,409.5 L873.6,408.1 L874.2,406.7 L874.8,405.3 L875.4,403.9 L876.0,402.6 L876.6,401.2 L877.2,399.8 L877.7,398.4 L878.3,397.1 L878.9,395.7 L879.5,394.3 L880.1,392.9 L880.7,391.5 L881.3,390.1 L881.8,388.8 L882.4,387.4 L883.0,386.0 L883.6,384.6 L884.1,383.2 L884.7,381.8 L885.3,380.4 L885.9,379.0 L886.4,377.7 L887.0,376.3 L887.6,374.9 L888.1,373.5 L888.7,372.1 L889.2,370.7 L889.8,369.3 L890.4,367.9 L890.9,366.5 L891.5,365.1 L892.0,363.7 L892.6,362.3 L893.2,361.0 L893.7,359.6 L894.3,358.2 L894.8,356.8 L895.4,355.4 L895.9,354.0 L896.5,352.6 L897.0,351.2 L897.6,349.8 L898.1,348.4 L898.7,347.0 L899.2,345.6 L899.8,344.2 L900.4,342.8 L900.9,341.4 L901.5,340.0 L902.0,338.6 L902.6,337.2 L903.1,335.8 L903.6,334.4 L904.2,333.0 L904.7,331.6 L905.3,330.2 L905.8,328.8 L906.4,327.4 L906.9,326.0 L907.5,324.7 L908.0,323.3 L908.6,321.9 L909.2,320.5 L909.7,319.1 L910.3,317.7 L910.8,316.3 L911.4,314.9 L911.9,313.5 L912.5,312.1 L913.0,310.7 L913.6,309.3 L914.1,307.9 L914.7,306.5 L915.2,305.1 L915.8,303.7 L916.4,302.3 L916.9,300.9 L917.5,299.6 L918.0,298.2 L918.6,296.8 L919.2,295.4 L919.7,294.0 L920.3,292.6 L920.9,291.2 L921.4,289.8 L922.0,288.4 L922.6,287.0 L923.1,285.7 L923.7,284.3 L924.3,282.9 L924.9,281.5 L925.4,280.1 L926.0,278.7 L926.6,277.4 L927.2,276.0 L927.7,274.6 L928.3,273.2 L928.9,271.8 L929.5,270.5 L930.1,269.1 L930.7,267.7 L931.3,266.3 L931.9,264.9 L932.5,263.6 L933.1,262.2 L933.7,260.8 L934.3,259.5 L934.9,258.1 L935.5,256.7 L936.1,255.3 L936.7,254.0 L937.3,252.6 L937.9,251.2 L938.5,249.9 L939.1,248.5 L939.8,247.2 L940.4,245.8 L941.0,244.4 L941.6,243.1 L942.3,241.7 L942.9,240.4 L943.5,239.0 L944.2,237.6 L944.8,236.3 L945.4,234.9 L946.1,233.6 L946.7,232.2 L947.4,230.9 L948.0,229.5 L948.7,228.2 L949.3,226.8 L950.0,225.5 L950.7,224.2 L951.3,222.8 L952.0,221.5 L952.7,220.1 L953.4,218.8 L954.0,217.5 L954.7,216.1 L955.4,214.8 L956.1,213.5 L956.8,212.1 L957.5,210.8 L958.2,209.5 L958.9,208.2 L959.6,206.8 L960.3,205.5 L961.0,204.2 L961.7,202.9 L962.4,201.6 L963.2,200.2 L963.9,198.9 L964.6,197.6 L965.3,196.3 L966.1,195.0 L966.8,193.7 L967.6,192.4 L968.3,191.1 L969.1,189.8 L969.8,188.5 L970.6,187.2 L971.4,185.9 L972.1,184.6 L972.9,183.3 L973.7,182.1 L974.5,180.8 L975.3,179.5 L976.1,178.3 L976.9,177.0 L977.7,175.8 L978.5,174.5 L979.4,173.3 L980.2,172.0 L981.0,170.8 L981.9,169.6 L982.8,168.3 L983.6,167.1 L984.5,165.9 L985.4,164.7 L986.3,163.5 L987.2,162.4 L988.1,161.2 L989.0,160.0 L989.9,158.9 L990.9,157.7 L991.8,156.6 L992.8,155.4 L993.8,154.3 L994.7,153.2 L995.7,152.1 L996.7,151.0 L997.8,149.9 L998.8,148.9 L999.8,147.8 L1000.9,146.8 L1001.9,145.7 L1003.0,144.7 L1004.1,143.7 L1005.2,142.7 L1006.3,141.7 L1007.4,140.7 L1008.5,139.7 L1009.7,138.8 L1010.8,137.8 L1012.0,136.9 L1013.2,136.0 L1014.4,135.1 L1015.6,134.2 L1016.8,133.3 L1018.1,132.5 L1019.3,131.6 L1020.6,130.8 L1021.9,130.0 L1023.2,129.2 L1024.5,128.4 L1025.8,127.6 L1027.1,126.9 L1028.4,126.2 L1029.8,125.5 L1031.1,124.8 L1032.5,124.1 L1033.9,123.5 L1035.3,122.8 L1036.6,122.2 L1038.0,121.6 L1039.5,121.1 L1040.9,120.5 L1042.3,120.0 L1043.7,119.5 L1045.2,119.0 L1046.6,118.6 L1048.1,118.2 L1049.5,117.8 L1051.0,117.4 L1052.5,117.0 L1054.0,116.7 L1055.5,116.4 L1056.9,116.1 L1058.4,115.9 L1059.9,115.6 L1061.4,115.4 L1063.0,115.3 L1064.5,115.1 L1066.0,115.0 L1067.5,114.9 L1069.0,114.9 L1070.5,114.9 L1072.1,114.9 L1073.6,114.9 L1075.1,114.9 L1076.6,115.0 L1078.1,115.1 L1079.6,115.3 L1081.1,115.5 L1082.6,115.7 L1084.1,115.9 L1085.6,116.1 L1087.1,116.4 L1088.5,116.7 L1090.0,117.1 L1091.4,117.4 L1092.9,117.8 L1094.3,118.2 L1095.7,118.7 L1097.1,119.2 L1098.5,119.7 L1099.9,120.2 L1101.2,120.8 L1102.6,121.4 L1103.9,122.0 L1105.2,122.7 L1106.5,123.3 L1107.8,124.1 L1109.0,124.8 L1110.2,125.6 L1111.4,126.4 L1112.6,127.2 L1113.8,128.0 L1114.9,128.9 L1116.1,129.8 L1117.2,130.7 L1118.3,131.7 L1119.3,132.7 L1120.4,133.7 L1121.4,134.7 L1122.4,135.7 L1123.4,136.8 L1124.4,137.9 L1125.4,139.0 L1126.4,140.1 L1127.3,141.2 L1128.2,142.4 L1129.1,143.6 L1130.0,144.8 L1130.9,146.0 L1131.8,147.2 L1132.7,148.4 L1133.5,149.7 L1134.4,150.9 L1135.2,152.2 L1136.0,153.5 L1136.8,154.8 L1137.6,156.1 L1138.4,157.4 L1139.2,158.7 L1139.9,160.1 L1140.7,161.4 L1141.4,162.7 L1142.2,164.1 L1142.9,165.4 L1143.6,166.8 L1144.4,168.2 L1145.1,169.5 L1145.8,170.9 L1146.5,172.3 L1147.2,173.6 L1147.9,175.0 L1148.6,176.4 L1149.3,177.7 L1149.9,179.1 L1150.6,180.5 L1151.3,181.9 L1151.9,183.3 L1152.6,184.6 L1153.3,186.0 L1153.9,187.4 L1154.6,188.8 L1155.2,190.2 L1155.8,191.5 L1156.5,192.9 L1157.1,194.3 L1157.7,195.7 L1158.4,197.1 L1159.0,198.5 L1159.6,199.9 L1160.2,201.3 L1160.8,202.6 L1161.4,204.0 L1162.0,205.4 L1162.6,206.8 L1163.2,208.2 L1163.8,209.6 L1164.3,211.0 L1164.9,212.4 L1165.5,213.8 L1166.1,215.2 L1166.6,216.6 L1167.2,218.0 L1167.7,219.4 L1168.3,220.8 L1168.8,222.2 L1169.4,223.6 L1169.9,225.0 L1170.5,226.4 L1171.0,227.8 L1171.6,229.2 L1172.1,230.6 L1172.6,232.0 L1173.1,233.4 L1173.7,234.9 L1174.2,236.3 L1174.7,237.7 L1175.2,239.1 L1175.7,240.5 L1176.2,241.9 L1176.7,243.3 L1177.2,244.7 L1177.7,246.2 L1178.2,247.6 L1178.7,249.0 L1179.2,250.4 L1179.7,251.8 L1180.2,253.2 L1180.6,254.6 L1181.1,256.1 L1181.6,257.5 L1182.1,258.9 L1182.6,260.3 L1183.0,261.7 L1183.5,263.2 L1184.0,264.6 L1184.4,266.0 L1184.9,267.4 L1185.3,268.9 L1185.8,270.3 L1186.2,271.7 L1186.7,273.1 L1187.2,274.6 L1187.6,276.0 L1188.0,277.4 L1188.5,278.8 L1188.9,280.3 L1189.4,281.7 L1189.8,283.1 L1190.3,284.5 L1190.7,286.0 L1191.1,287.4 L1191.6,288.8 L1192.0,290.3 L1192.4,291.7 L1192.8,293.1 L1193.3,294.5 L1193.7,296.0 L1194.1,297.4 L1194.6,298.8 L1195.0,300.3 L1195.4,301.7 L1195.8,303.1 L1196.2,304.6 L1196.7,306.0 L1197.1,307.4 L1197.5,308.9 L1197.9,310.3 L1198.3,311.7 L1198.7,313.2 L1199.1,314.6 L1199.6,316.0 L1200.0,317.5 L1200.4,318.9 L1200.8,320.3 L1201.2,321.8 L1201.6,323.2 L1202.0,324.7 L1202.4,326.1 L1202.8,327.5 L1203.2,329.0 L1203.6,330.4 L1204.1,331.8 L1204.5,333.3 L1204.9,334.7 L1205.3,336.1 L1205.7,337.6 L1206.1,339.0 L1206.5,340.5 L1206.9,341.9 L1207.3,343.3 L1207.7,344.8 L1208.1,346.2 L1208.5,347.6 L1208.9,349.1 L1209.3,350.5 L1209.7,352.0 L1210.1,353.4 L1210.6,354.8 L1211.0,356.3 L1211.4,357.7 L1211.8,359.1 L1212.2,360.6 L1212.6,362.0 L1213.0,363.5 L1213.4,364.9 L1213.8,366.3 L1214.3,367.8 L1214.7,369.2 L1215.1,370.6 L1215.5,372.1 L1215.9,373.5 L1216.3,375.0 L1216.7,376.4 L1217.2,377.8 L1217.6,379.3 L1218.0,380.7 L1218.4,382.1 L1218.8,383.6 L1219.3,385.0 L1219.7,386.4 L1220.1,387.9 L1220.5,389.3 L1221.0,390.8 L1221.4,392.2 L1221.8,393.6 L1222.2,395.1 L1222.7,396.5 L1223.1,397.9 L1223.5,399.4 L1223.9,400.8 L1224.4,402.2 L1224.8,403.7 L1225.2,405.1 L1225.7,406.6 L1226.1,408.0 L1226.5,409.4 L1227.0,410.9 L1227.4,412.3 L1227.8,413.7 L1228.2,415.2 L1228.7,416.6 L1229.1,418.0 L1229.5,419.5 L1230.0,420.9 L1230.4,422.3 L1230.9,423.8 L1231.3,425.2 L1231.7,426.6 L1232.2,428.1 L1232.6,429.5 L1233.0,431.0 L1233.5,432.4 L1233.9,433.8 L1234.4,435.3 L1234.8,436.7 L1235.2,438.1 L1235.7,439.6 L1236.1,441.0 L1236.6,442.4 L1237.0,443.9 L1237.4,445.3 L1237.9,446.7 L1238.3,448.2 L1238.8,449.6 L1239.2,451.0 L1239.6,452.5 L1240.1,453.9 L1240.5,455.3 L1241.0,456.8 L1241.4,458.2 L1241.9,459.6 L1242.3,461.1 L1242.8,462.5 L1243.2,464.0 L1243.6,465.4 L1244.1,466.8 L1244.5,468.3 L1245.0,469.7 L1245.4,471.1 L1245.9,472.6 L1246.3,474.0 L1246.8,475.4 L1247.2,476.9 L1247.7,478.3 L1248.1,479.7 L1248.6,481.2 L1249.0,482.6 L1249.5,484.0 L1249.9,485.5 L1250.4,486.9 L1250.8,488.3 L1251.3,489.8 L1251.7,491.2 L1252.2,492.6 L1252.6,494.1 L1253.1,495.5 L1253.5,496.9 L1253.9,498.4 L1254.4,499.8 L1254.8,501.2 L1255.3,502.7 L1255.7,504.1 L1256.2,505.5 L1256.6,507.0 L1257.1,508.4 L1257.5,509.8 L1258.0,511.3 L1258.4,512.7 L1258.9,514.1 L1259.3,515.6 L1259.8,517.0 L1260.2,518.5 L1260.7,519.9 L1261.1,521.3 L1261.6,522.8 L1262.0,524.2 L1262.5,525.6 L1262.9,527.1 L1263.4,528.5 L1263.8,529.9 L1264.3,531.4 L1264.7,532.8 L1265.2,534.2 L1265.6,535.7 L1266.1,537.1 L1266.5,538.5 L1267.0,540.0 L1267.4,541.4 L1267.9,542.8 L1268.3,544.3 L1268.8,545.7 L1269.2,547.1 L1269.7,548.6 L1270.1,550.0 L1270.6,551.4 L1271.0,552.9 L1271.5,554.3 L1271.9,555.7 L1272.4,557.2 L1272.8,558.6 L1273.3,560.0 L1273.7,561.5 L1274.2,562.9 L1274.6,564.3 L1275.1,565.8 L1275.5,567.2 L1275.9,568.6 L1276.4,570.1 L1276.8,571.5 L1277.3,573.0 L1277.7,574.4 L1278.2,575.8 L1278.6,577.3 L1279.1,578.7 L1279.5,580.1 L1279.9,581.6 L1280.4,583.0 L1280.8,584.4 L1281.3,585.9 L1281.7,587.3 L1282.2,588.7 L1282.6,590.2 L1283.0,591.6 L1283.5,593.0 L1283.9,594.5 L1284.4,595.9 L1284.8,597.3 L1285.2,598.8 L1285.7,600.2 L1286.1,601.6 L1286.6,603.1 L1287.0,604.5 L1287.4,606.0 L1287.9,607.4 L1288.3,608.8 L1288.7,610.3 L1289.2,611.7 L1289.6,613.1 L1290.0,614.6 L1290.5,616.0 L1290.9,617.4 L1291.4,618.9 L1291.8,620.3 L1292.2,621.7 L1292.7,623.2 L1293.1,624.6 L1293.5,626.0 L1294.0,627.5 L1294.4,628.9 L1294.8,630.4 L1295.2,631.8 L1295.7,633.2 L1296.1,634.7 L1296.5,636.1 L1297.0,637.5 L1297.4,639.0 L1297.8,640.4 L1298.3,641.8 L1298.7,643.3 L1299.1,644.7 L1299.6,646.1 L1300.0,647.6 L1300.4,649.0 L1300.8,650.5 L1301.3,651.9 L1301.7,653.3 L1302.1,654.8 L1302.6,656.2 L1303.0,657.6 L1303.4,659.1 L1303.8,660.5 L1304.3,661.9 L1304.7,663.4 L1305.1,664.8 L1305.5,666.2 L1306.0,667.7 L1306.4,669.1 L1306.8,670.6 L1307.3,672.0 L1307.7,673.4 L1308.1,674.9 L1308.5,676.3 L1309.0,677.7 L1309.4,679.2 L1309.8,680.6 L1310.2,682.0 L1310.7,683.5 L1311.1,684.9 L1311.5,686.3 L1312.0,687.8 L1312.4,689.2 L1312.8,690.7 L1313.2,692.1 L1313.7,693.5 L1314.1,695.0 L1314.5,696.4 L1314.9,697.8 L1315.4,699.3 L1315.8,700.7 L1316.2,702.1 L1316.6,703.6 L1317.1,705.0 L1317.5,706.4 L1317.9,707.9 L1318.4,709.3 L1318.8,710.8 L1319.2,712.2 L1319.6,713.6 L1320.1,715.1 L1320.5,716.5 L1320.9,717.9 L1321.3,719.4 L1321.8,720.8 L1322.2,722.2 L1322.6,723.7 L1323.1,725.1 L1323.5,726.5 L1323.9,728.0 L1324.3,729.4 L1324.8,730.9 L1325.2,732.3 L1325.6,733.7 L1326.1,735.2 L1326.5,736.6 L1326.9,738.0 L1327.4,739.5 L1327.8,740.9 L1328.2,742.3 L1328.6,743.8 L1329.1,745.2 L1329.5,746.6 L1329.9,748.1 L1330.4,749.5 L1330.8,750.9 L1331.2,752.4 L1331.7,753.8 L1332.1,755.2 L1332.5,756.7 L1333.0,758.1 L1333.4,759.6 L1333.8,761.0 L1334.3,762.4 L1334.7,763.9 L1335.1,765.3 L1335.6,766.7 L1336.0,768.2 L1336.4,769.6 L1336.9,771.0 L1337.3,772.5 L1337.8,773.9 L1338.2,775.3 L1338.6,776.8 L1339.1,778.2 L1339.5,779.6 L1340.0,781.1 L1340.4,782.5 L1340.8,783.9 L1341.3,785.4 L1341.7,786.8 L1342.2,788.2 L1342.6,789.7 L1343.0,791.1 L1343.5,792.5 L1343.9,794.0 L1344.4,795.4 L1344.8,796.8 L1345.3,798.3 L1345.7,799.7 L1346.1,801.1 L1346.6,802.6 L1347.0,804.0 L1347.5,805.4 L1347.9,806.9 L1348.4,808.3 L1348.8,809.7 L1349.3,811.2 L1349.7,812.6 L1350.2,814.0 L1350.6,815.5 L1351.1,816.9 L1351.5,818.3 L1352.0,819.8 L1352.4,821.2 L1352.9,822.6 L1353.4,824.1 L1353.8,825.5 L1354.3,826.9 L1354.7,828.4 L1355.2,829.8 L1355.6,831.2 L1356.1,832.6 L1356.5,834.1 L1357.0,835.5 L1357.5,836.9 L1357.9,838.4 L1358.4,839.8 L1358.9,841.2 L1359.3,842.7 L1359.8,844.1 L1360.3,845.5 L1360.7,846.9 L1361.2,848.4 L1361.7,849.8 L1362.2,851.2 L1362.6,852.7 L1363.1,854.1 L1363.6,855.5 L1364.1,856.9 L1364.6,858.3 L1365.1,859.8 L1365.6,861.2 L1366.1,862.6 L1366.6,864.0 L1367.1,865.4 L1367.6,866.8 L1368.1,868.2 L1368.7,869.6 L1369.2,871.0 L1369.7,872.4 L1370.3,873.8 L1370.8,875.2 L1371.3,876.6 L1371.9,878.0 L1372.4,879.4 L1373.0,880.8 L1373.6,882.2 L1374.2,883.6 L1374.7,885.0 L1375.3,886.4 L1375.9,887.7 L1376.5,889.1 L1377.1,890.5 L1377.7,891.8 L1378.3,893.2 L1379.0,894.6 L1379.6,895.9 L1380.2,897.3 L1380.9,898.6 L1381.5,900.0 L1382.2,901.3 L1382.9,902.7 L1383.6,904.0 L1384.2,905.3 L1384.9,906.7 L1385.6,908.0 L1386.3,909.3 L1387.1,910.7 L1387.8,912.0 L1388.5,913.3 L1389.3,914.6 L1390.0,915.9 L1390.8,917.2 L1391.6,918.5 L1392.4,919.7 L1393.2,921.0 L1394.0,922.2 L1394.9,923.4 L1395.8,924.7 L1396.7,925.8 L1397.6,927.0 L1398.5,928.2 L1399.5,929.3 L1400.5,930.4 L1401.5,931.4 L1402.5,932.5 L1403.6,933.5 L1404.7,934.5 L1405.8,935.4 L1407.0,936.3 L1408.1,937.3 L1409.3,938.1 L1410.5,939.0 L1411.7,939.9 L1413.0,940.8 L1414.2,941.7 L1415.4,942.6 L1416.6,943.5 L1417.8,944.4 L1419.0,945.4 L1420.1,946.4 L1421.3,947.3 L1422.4,948.4 L1423.6,949.4 L1424.7,950.4 L1425.9,951.4 L1427.0,952.5 L1428.1,953.5 L1429.3,954.5 L1430.4,955.6 L1431.5,956.6 L1432.7,957.5 L1433.8,958.5 L1435.0,959.4 L1436.2,960.3 L1437.4,961.2 L1438.6,962.1 L1439.8,962.9 L1441.1,963.6 L1442.4,964.3 L1443.7,965.0 L1445.0,965.6 L1446.3,966.2 L1447.7,966.7 L1449.0,967.2 L1450.4,967.7 L1451.8,968.1 L1453.3,968.5 L1454.7,968.8 L1456.1,969.2 L1457.6,969.5 L1459.0,969.8 L1460.5,970.2 L1461.9,970.5 L1463.3,970.8 L1464.8,971.1 L1466.2,971.4 L1467.7,971.7 L1469.2,972.0 L1470.6,972.3 L1472.1,972.6 L1473.5,972.8 L1475.0,973.1 L1476.4,973.4 L1477.9,973.7 L1479.4,973.9 L1480.8,974.2 L1482.3,974.4 L1483.8,974.7 L1485.2,974.9 L1486.7,975.1 L1488.2,975.4 L1489.6,975.6 L1491.1,975.8 L1492.6,976.0 L1494.1,976.2 L1495.6,976.4 L1497.1,976.6 L1498.6,976.8 L1500.1,976.9 L1501.6,977.1 L1503.1,977.2 L1504.6,977.4 L1506.1,977.5 L1507.6,977.6 L1509.1,977.8 L1510.6,977.9 L1512.2,978.0 L1513.7,978.2 L1515.2,978.3 L1516.7,978.4 L1518.2,978.5 L1519.7,978.7 L1521.3,978.8 L1522.8,978.9 L1524.3,979.1 L1525.8,979.2 L1527.3,979.4 L1528.8,979.5 L1530.3,979.7 L1531.8,979.8 L1533.3,980.0 L1534.8,980.2 L1536.3,980.4 L1537.8,980.6 L1539.3,980.9 L1540.7,981.1 L1542.2,981.4 L1543.7,981.6 L1545.1,981.9 L1546.6,982.2 L1548.0,982.6 L1549.5,982.9 L1550.9,983.3 L1552.3,983.7 L1553.7,984.1 L1555.1,984.5 L1556.5,985.0 L1557.9,985.4 L1559.3,985.9 L1560.6,986.5 L1562.0,987.0 L1563.3,987.6 L1564.7,988.2 L1566.0,988.8 L1567.3,989.5 L1568.6,990.2 L1569.9,990.9 L1571.2,991.7 L1572.4,992.5 L1573.7,993.3 L1574.9,994.2 L1576.1,995.1 L1577.4,996.0 L1578.6,997.0 L1579.8,997.7 L1581.2,997.9 L1582.6,997.4 L1583.9,996.8 L1585.2,996.1 L1586.3,995.3 L1587.3,994.4 L1588.3,993.4 L1589.2,992.3 L1590.0,991.2 L1590.7,990.0 L1591.3,988.8 L1591.9,987.5 L1592.5,986.2 L1593.0,984.8 L1593.4,983.4 L1593.8,981.9 L1594.2,980.4 L1594.5,978.9 L1594.9,977.4 L1595.2,975.9 L1595.5,974.3 L1595.8,972.8 L1596.0,971.2 L1596.3,969.7 L1596.6,968.1 L1596.9,966.6 L1597.2,965.1 L1597.6,963.5 L1597.9,962.0 L1598.3,960.5 L1598.7,959.1 L1599.1,957.6 L1599.6,956.2 L1600.2,954.8 L1600.7,953.4 L1601.4,952.1 L1602.1,950.8 L1602.8,949.6 L1603.7,948.4 L1604.6,947.8 L1605.9,948.1 L1607.1,948.9 L1608.3,949.8 L1609.4,950.8 L1610.4,951.9 L1611.3,953.0 L1612.2,954.2 L1613.0,955.4 L1613.8,956.6 L1614.5,957.9 L1615.2,959.3 L1615.8,960.7 L1616.3,962.1 L1616.9,963.5 L1617.4,964.9 L1617.9,966.4 L1618.3,967.8 L1618.8,969.3 L1619.3,970.8 L1619.7,972.3 L1620.2,973.7 L1620.6,975.2 L1621.1,976.7 L1621.6,978.1 L1622.1,979.5 L1622.6,980.9 L1623.2,982.2 L1623.8,983.6 L1624.0,984.0"/>
</g>
<g font-size="56.6" text-anchor="middle">
<text transform="translate(253.2,1065.8) scale(1,1.05)">300</text>
<text transform="translate(481.0,1065.8) scale(1,1.05)">400</text>
<text transform="translate(708.9,1065.8) scale(1,1.05)">500</text>
<text transform="translate(936.7,1065.8) scale(1,1.05)">600</text>
<text transform="translate(1164.5,1065.8) scale(1,1.05)">700</text>
<text transform="translate(1392.4,1065.8) scale(1,1.05)">800</text>
<text transform="translate(1620.2,1065.8) scale(1,1.05)">900</text>
</g>
<g font-size="56.6" text-anchor="end">
<text transform="translate(221.3,997.1) scale(1,1.05)">0.0</text>
<text transform="translate(221.3,824.1) scale(1,1.05)">0.2</text>
<text transform="translate(221.3,651.1) scale(1,1.05)">0.4</text>
<text transform="translate(221.3,478.2) scale(1,1.05)">0.6</text>
<text transform="translate(221.3,305.2) scale(1,1.05)">0.8</text>
<text transform="translate(221.3,132.2) scale(1,1.05)">1.0</text>
</g>
<text x="293.5" y="122.3" font-size="62">(a)</text>
<text class="b" font-size="61.5" text-anchor="middle" transform="translate(81.2,506.0) rotate(-90)">Normalized absorbance (au)</text>
<g fill="none" stroke-width="10.8" stroke-linecap="round"><path stroke="#000" d="M522.2,757.9 H649.7"/><path stroke="#f00" d="M522.2,829.0 H649.7"/></g>
<text class="b" font-size="56" transform="translate(665.4,777.1) scale(1,1)">PBDTS-ID</text>
<text class="b" font-size="56" transform="translate(665.4,848.6) scale(1,1)">PBDTS-DTNT</text>
</g>
<g id="plot-b">
<g fill="none" stroke-width="10.8" stroke-linejoin="round" stroke-linecap="round">
<path stroke="#000" d="M251.5,1490.5 L252.6,1491.6 L253.7,1492.6 L254.8,1493.7 L255.9,1494.7 L257.0,1495.8 L258.1,1496.8 L259.2,1497.9 L260.2,1498.9 L261.3,1500.0 L262.4,1501.1 L263.4,1502.2 L264.5,1503.2 L265.5,1504.3 L266.5,1505.4 L267.5,1506.5 L268.5,1507.6 L269.5,1508.8 L270.5,1509.9 L271.5,1511.0 L272.4,1512.2 L273.3,1513.3 L274.2,1514.5 L275.1,1515.7 L276.0,1516.9 L276.9,1518.1 L277.7,1519.3 L278.5,1520.5 L279.3,1521.8 L280.1,1523.0 L280.8,1524.3 L281.6,1525.6 L282.3,1526.9 L283.0,1528.2 L283.7,1529.5 L284.3,1530.8 L285.0,1532.2 L285.6,1533.5 L286.2,1534.9 L286.8,1536.2 L287.4,1537.6 L288.0,1539.0 L288.5,1540.3 L289.1,1541.7 L289.6,1543.1 L290.2,1544.5 L290.7,1545.9 L291.2,1547.3 L291.7,1548.7 L292.2,1550.1 L292.7,1551.5 L293.2,1553.0 L293.7,1554.4 L294.2,1555.8 L294.7,1557.3 L295.1,1558.7 L295.6,1560.1 L296.0,1561.6 L296.5,1563.0 L296.9,1564.5 L297.4,1565.9 L297.8,1567.4 L298.3,1568.8 L298.7,1570.3 L299.1,1571.8 L299.6,1573.2 L300.0,1574.7 L300.4,1576.2 L300.9,1577.6 L301.3,1579.1 L301.8,1580.6 L302.2,1582.0 L302.7,1583.5 L303.1,1584.9 L303.6,1586.4 L304.1,1587.8 L304.6,1589.3 L305.1,1590.7 L305.6,1592.1 L306.1,1593.6 L306.6,1595.0 L307.2,1596.4 L307.7,1597.8 L308.3,1599.2 L308.9,1600.6 L309.5,1601.9 L310.1,1603.3 L310.7,1604.7 L311.4,1606.0 L312.0,1607.3 L312.7,1608.7 L313.4,1610.0 L314.1,1611.3 L314.9,1612.5 L315.7,1613.8 L316.5,1615.0 L317.3,1616.2 L318.2,1617.4 L319.1,1618.5 L320.0,1619.6 L321.0,1620.7 L322.0,1621.7 L323.1,1622.7 L324.2,1623.7 L325.4,1624.6 L326.6,1625.4 L327.8,1626.2 L329.1,1626.9 L330.5,1627.6 L331.9,1628.2 L333.1,1628.9 L333.9,1630.0 L334.3,1631.4 L334.6,1632.9 L334.9,1634.4 L335.2,1635.9 L335.5,1637.4 L335.7,1638.9 L336.0,1640.4 L336.2,1641.9 L336.4,1643.4 L336.7,1644.9 L336.9,1646.4 L337.2,1647.8 L337.5,1649.3 L337.8,1650.8 L338.2,1652.2 L338.8,1653.2 L339.9,1653.2 L341.2,1652.7 L342.6,1652.1 L343.8,1651.4 L345.0,1650.6 L346.2,1649.8 L347.3,1648.9 L348.3,1647.9 L349.3,1646.9 L350.3,1645.8 L351.2,1644.7 L352.0,1643.6 L352.9,1642.4 L353.7,1641.2 L354.5,1640.0 L355.2,1638.7 L355.9,1637.4 L356.7,1636.1 L357.3,1634.8 L358.0,1633.4 L358.7,1632.1 L359.3,1630.7 L360.0,1629.4 L360.6,1628.0 L361.2,1626.6 L361.8,1625.2 L362.4,1623.8 L363.0,1622.4 L363.5,1621.0 L364.1,1619.6 L364.7,1618.2 L365.2,1616.8 L365.7,1615.4 L366.2,1613.9 L366.7,1612.5 L367.2,1611.1 L367.7,1609.6 L368.2,1608.2 L368.7,1606.8 L369.1,1605.3 L369.6,1603.9 L370.0,1602.4 L370.5,1601.0 L370.9,1599.5 L371.3,1598.1 L371.8,1596.6 L372.2,1595.2 L372.6,1593.7 L373.0,1592.3 L373.4,1590.8 L373.8,1589.4 L374.1,1587.9 L374.5,1586.5 L374.9,1585.0 L375.3,1583.6 L375.6,1582.1 L376.0,1580.6 L376.3,1579.2 L376.7,1577.7 L377.0,1576.3 L377.4,1574.8 L377.7,1573.4 L378.0,1571.9 L378.4,1570.5 L378.7,1569.0 L379.0,1567.5 L379.4,1566.1 L379.7,1564.6 L380.0,1563.2 L380.3,1561.7 L380.7,1560.3 L381.0,1558.8 L381.3,1557.3 L381.6,1555.9 L381.9,1554.4 L382.2,1553.0 L382.6,1551.5 L382.9,1550.1 L383.2,1548.6 L383.5,1547.1 L383.8,1545.7 L384.2,1544.2 L384.5,1542.8 L384.8,1541.3 L385.2,1539.9 L385.5,1538.4 L385.8,1536.9 L386.2,1535.5 L386.5,1534.0 L386.8,1532.6 L387.2,1531.1 L387.5,1529.7 L387.9,1528.2 L388.2,1526.7 L388.6,1525.3 L389.0,1523.8 L389.3,1522.4 L389.7,1520.9 L390.1,1519.5 L390.5,1518.0 L390.9,1516.6 L391.3,1515.1 L391.7,1513.7 L392.1,1512.2 L392.5,1510.8 L392.9,1509.3 L393.3,1507.9 L393.7,1506.4 L394.1,1505.0 L394.6,1503.5 L395.0,1502.1 L395.5,1500.7 L395.9,1499.2 L396.4,1497.8 L396.8,1496.4 L397.3,1494.9 L397.8,1493.5 L398.2,1492.1 L398.7,1490.6 L399.2,1489.2 L399.7,1487.8 L400.2,1486.4 L400.7,1484.9 L401.3,1483.5 L401.8,1482.1 L402.3,1480.7 L402.9,1479.3 L403.4,1477.9 L404.0,1476.5 L404.5,1475.1 L405.1,1473.7 L405.7,1472.3 L406.2,1470.9 L406.8,1469.5 L407.4,1468.1 L408.0,1466.7 L408.7,1465.4 L409.3,1464.0 L409.9,1462.6 L410.6,1461.3 L411.2,1459.9 L411.9,1458.6 L412.6,1457.3 L413.4,1456.0 L414.1,1454.7 L414.9,1453.5 L415.7,1452.2 L416.5,1451.0 L417.4,1449.8 L418.3,1448.7 L419.2,1447.6 L420.2,1446.5 L421.2,1445.4 L422.2,1444.4 L423.3,1443.5 L424.4,1442.5 L425.6,1441.6 L426.8,1440.8 L428.0,1440.0 L429.3,1439.2 L430.7,1438.5 L432.1,1437.9 L433.6,1437.3 L435.1,1436.8 L436.6,1436.7 L438.1,1437.1 L439.6,1437.6 L441.0,1438.2 L442.4,1438.9 L443.7,1439.6 L444.9,1440.4 L446.1,1441.2 L447.3,1442.0 L448.4,1442.9 L449.5,1443.9 L450.5,1444.8 L451.5,1445.9 L452.5,1446.9 L453.4,1448.0 L454.3,1449.1 L455.1,1450.3 L455.9,1451.5 L456.7,1452.7 L457.5,1453.9 L458.2,1455.2 L458.9,1456.4 L459.6,1457.7 L460.3,1459.1 L461.0,1460.4 L461.6,1461.8 L462.2,1463.2 L462.8,1464.5 L463.4,1465.9 L464.0,1467.4 L464.6,1468.8 L465.2,1470.2 L465.7,1471.6 L466.3,1473.0 L466.9,1474.5 L467.4,1475.9 L468.0,1477.3 L468.6,1478.8 L469.1,1480.2 L469.7,1481.6 L470.3,1483.0 L470.9,1484.4 L471.5,1485.8 L472.1,1487.2 L472.7,1488.5 L473.4,1489.9 L474.0,1491.3 L474.6,1492.7 L475.2,1494.0 L475.9,1495.4 L476.5,1496.7 L477.1,1498.1 L477.8,1499.4 L478.4,1500.8 L479.1,1502.1 L479.7,1503.4 L480.4,1504.8 L481.0,1506.1 L481.6,1507.4 L482.3,1508.8 L482.9,1510.1 L483.6,1511.5 L484.2,1512.8 L484.8,1514.1 L485.5,1515.5 L486.1,1516.8 L486.7,1518.2 L487.3,1519.5 L487.9,1520.9 L488.5,1522.2 L489.1,1523.6 L489.7,1524.9 L490.3,1526.3 L490.9,1527.7 L491.4,1529.1 L492.0,1530.4 L492.6,1531.8 L493.1,1533.2 L493.6,1534.6 L494.1,1536.1 L494.7,1537.5 L495.2,1538.9 L495.6,1540.3 L496.2,1541.7 L497.1,1542.8 L498.2,1543.7 L499.4,1544.5 L500.6,1545.4 L501.8,1546.3 L503.1,1547.1 L504.4,1548.0 L505.7,1548.8 L507.0,1549.6 L508.4,1550.4 L509.7,1551.2 L511.1,1551.9 L512.5,1552.6 L513.9,1553.3 L515.3,1553.9 L516.7,1554.5 L518.1,1555.0 L519.5,1555.4 L520.9,1555.8 L522.3,1556.1 L523.7,1556.4 L525.1,1556.5 L526.5,1556.6 L527.9,1556.6 L529.3,1556.5 L530.7,1556.4 L532.0,1556.1 L533.4,1555.8 L534.7,1555.4 L536.0,1555.0 L537.3,1554.5 L538.7,1553.9 L539.9,1553.2 L541.2,1552.5 L542.5,1551.8 L543.8,1551.0 L545.0,1550.1 L546.2,1549.2 L547.5,1548.3 L548.7,1547.3 L549.9,1546.3 L551.0,1545.2 L552.2,1544.1 L553.4,1543.0 L554.5,1541.9 L555.6,1540.7 L556.7,1539.5 L557.8,1538.3 L558.9,1537.1 L559.9,1535.9 L560.9,1534.6 L562.0,1533.4 L563.0,1532.2 L563.9,1530.9 L564.9,1529.7 L565.9,1528.5 L566.8,1527.2 L567.7,1526.0 L568.6,1524.8 L569.5,1523.5 L570.4,1522.3 L571.3,1521.1 L572.1,1519.9 L573.0,1518.7 L573.8,1517.4 L574.7,1516.2 L575.5,1515.0 L576.3,1513.8 L577.1,1512.6 L578.0,1511.4 L578.8,1510.2 L579.6,1509.0 L580.4,1507.8 L581.2,1506.6 L582.1,1505.5 L582.9,1504.3 L583.7,1503.1 L584.6,1501.9 L585.4,1500.7 L586.3,1499.6 L587.1,1498.4 L588.0,1497.2 L588.9,1496.1 L589.8,1494.9 L590.7,1493.8 L591.6,1492.6 L592.6,1491.4 L593.5,1490.3 L594.5,1489.2 L595.5,1488.0 L596.5,1486.9 L597.5,1485.8 L598.6,1484.6 L599.6,1483.5 L600.7,1482.5 L601.8,1481.4 L602.9,1480.3 L604.0,1479.3 L605.1,1478.3 L606.3,1477.3 L607.5,1476.3 L608.6,1475.3 L609.8,1474.4 L611.1,1473.5 L612.3,1472.6 L613.5,1471.8 L614.8,1471.0 L616.1,1470.2 L617.4,1469.4 L618.7,1468.7 L620.0,1468.1 L621.3,1467.4 L622.7,1466.9 L624.0,1466.3 L625.4,1465.8 L626.8,1465.4 L628.2,1465.0 L629.6,1464.6 L631.1,1464.3 L632.5,1464.0 L634.0,1463.8 L635.5,1463.7 L636.9,1463.6 L638.4,1463.5 L639.9,1463.5 L641.4,1463.5 L642.9,1463.6 L644.4,1463.7 L645.9,1463.9 L647.3,1464.1 L648.8,1464.3 L650.3,1464.6 L651.8,1465.0 L653.2,1465.3 L654.7,1465.7 L656.1,1466.2 L657.6,1466.7 L659.0,1467.2 L660.4,1467.8 L661.7,1468.4 L663.1,1469.0 L664.4,1469.7 L665.8,1470.4 L667.1,1471.2 L668.3,1472.0 L669.6,1472.8 L670.8,1473.7 L672.0,1474.5 L673.1,1475.5 L674.2,1476.4 L675.3,1477.4 L676.4,1478.4 L677.4,1479.4 L678.4,1480.5 L679.4,1481.6 L680.3,1482.7 L681.3,1483.8 L682.2,1485.0 L683.0,1486.2 L683.9,1487.4 L684.7,1488.6 L685.5,1489.9 L686.3,1491.1 L687.1,1492.4 L687.8,1493.7 L688.6,1495.0 L689.3,1496.3 L690.0,1497.7 L690.7,1499.0 L691.4,1500.4 L692.0,1501.8 L692.7,1503.1 L693.3,1504.5 L693.9,1505.9 L694.5,1507.3 L695.1,1508.7 L695.7,1510.2 L696.3,1511.6 L696.9,1513.0 L697.5,1514.4 L698.0,1515.8 L698.6,1517.3 L699.2,1518.7 L699.7,1520.1 L700.3,1521.5 L700.8,1522.9 L701.4,1524.3 L702.0,1525.7 L702.5,1527.2 L703.1,1528.6 L703.6,1530.0 L704.2,1531.4 L704.7,1532.8 L705.3,1534.1 L705.8,1535.5 L706.4,1536.9 L706.9,1538.3 L707.4,1539.7 L708.0,1541.1 L708.5,1542.5 L709.1,1543.9 L709.6,1545.2 L710.2,1546.6 L710.7,1548.0 L711.3,1549.4 L711.8,1550.7 L712.4,1552.1 L712.9,1553.5 L713.5,1554.9 L714.0,1556.2 L714.6,1557.6 L715.2,1559.0 L715.7,1560.4 L716.3,1561.7 L716.8,1563.1 L717.4,1564.5 L718.0,1565.9 L718.5,1567.2 L719.1,1568.6 L719.7,1570.0 L720.3,1571.3 L720.9,1572.7 L721.4,1574.1 L722.0,1575.5 L722.6,1576.9 L723.2,1578.2 L723.8,1579.6 L724.4,1581.0 L725.0,1582.4 L725.6,1583.7 L726.3,1585.1 L726.9,1586.5 L727.5,1587.9 L728.1,1589.3 L728.7,1590.6 L729.4,1592.0 L730.0,1593.4 L730.6,1594.7 L731.2,1596.1 L731.9,1597.5 L732.5,1598.8 L733.1,1600.2 L733.8,1601.6 L734.4,1602.9 L735.1,1604.3 L735.7,1605.6 L736.4,1607.0 L737.0,1608.3 L737.7,1609.6 L738.4,1611.0 L739.1,1612.3 L739.8,1613.6 L740.5,1614.9 L741.3,1616.2 L742.1,1617.5 L742.9,1618.8 L743.7,1620.0 L744.5,1621.3 L745.4,1622.5 L746.3,1623.8 L747.2,1625.0 L748.1,1626.2 L749.1,1627.4 L750.1,1628.6 L751.1,1629.7 L752.1,1630.9 L753.2,1632.0 L754.3,1633.1 L755.4,1634.2 L756.6,1635.2 L757.7,1636.2 L758.9,1637.2 L760.1,1638.2 L761.3,1639.1 L762.6,1640.0 L763.8,1640.8 L765.1,1641.6 L766.4,1642.4 L767.7,1643.1 L769.0,1643.8 L770.3,1644.5 L771.6,1645.1 L773.0,1645.6 L774.3,1646.1 L775.7,1646.6 L777.1,1647.0 L778.5,1647.3 L779.9,1647.6 L781.3,1647.8 L782.7,1648.0 L784.1,1648.1 L785.5,1648.1 L786.9,1648.1 L788.3,1648.0 L789.7,1647.9 L791.2,1647.7 L792.6,1647.4 L794.0,1647.1 L795.4,1646.7 L796.8,1646.3 L798.3,1645.8 L799.7,1645.3 L801.1,1644.8 L802.5,1644.2 L803.9,1643.6 L805.3,1642.9 L806.7,1642.2 L808.1,1641.5 L809.4,1640.8 L810.8,1640.1 L812.2,1639.3 L813.5,1638.5 L814.8,1637.7 L816.2,1636.9 L817.5,1636.1 L818.8,1635.3 L820.1,1634.5 L821.4,1633.6 L822.7,1632.7 L823.9,1631.9 L825.2,1631.0 L826.4,1630.1 L827.6,1629.2 L828.8,1628.2 L830.0,1627.3 L831.2,1626.4 L832.4,1625.4 L833.5,1624.4 L834.7,1623.5 L835.8,1622.5 L836.9,1621.5 L838.0,1620.5 L839.1,1619.4 L840.2,1618.4 L841.2,1617.4 L842.3,1616.3 L843.3,1615.3 L844.4,1614.2 L845.4,1613.1 L846.4,1612.0 L847.4,1610.9 L848.4,1609.8 L849.3,1608.7 L850.3,1607.6 L851.3,1606.5 L852.2,1605.3 L853.2,1604.2 L854.1,1603.0 L855.0,1601.9 L855.9,1600.7 L856.8,1599.5 L857.7,1598.4 L858.6,1597.2 L859.5,1596.0 L860.4,1594.8 L861.2,1593.6 L862.1,1592.4 L862.9,1591.2 L863.8,1589.9 L864.6,1588.7 L865.4,1587.5 L866.3,1586.2 L867.1,1585.0 L867.9,1583.7 L868.7,1582.5 L869.5,1581.2 L870.3,1580.0 L871.1,1578.7 L871.9,1577.4 L872.7,1576.2 L873.4,1574.9 L874.2,1573.6 L875.0,1572.3 L875.8,1571.0 L876.5,1569.7 L877.3,1568.5 L878.0,1567.2 L878.8,1565.9 L879.6,1564.6 L880.3,1563.3 L881.1,1562.0 L881.8,1560.7 L882.6,1559.4 L883.3,1558.0 L884.1,1556.7 L884.8,1555.4 L885.5,1554.1 L886.3,1552.8 L887.0,1551.5 L887.8,1550.2 L888.5,1548.9 L889.3,1547.6 L890.0,1546.2 L890.8,1544.9 L891.5,1543.6 L892.3,1542.3 L893.0,1541.0 L893.8,1539.7 L894.5,1538.4 L895.3,1537.1 L896.0,1535.8 L896.8,1534.5 L897.6,1533.2 L898.3,1531.9 L899.1,1530.6 L899.9,1529.3 L900.7,1528.0 L901.5,1526.7 L902.2,1525.4 L903.0,1524.2 L903.8,1522.9 L904.6,1521.6 L905.5,1520.3 L906.3,1519.1 L907.1,1517.8 L907.9,1516.5 L908.7,1515.3 L909.6,1514.0 L910.4,1512.8 L911.3,1511.6 L912.1,1510.3 L913.0,1509.1 L913.9,1507.9 L914.8,1506.6 L915.6,1505.4 L916.5,1504.2 L917.4,1503.0 L918.3,1501.8 L919.3,1500.6 L920.2,1499.4 L921.1,1498.2 L922.0,1497.1 L922.9,1495.9 L923.9,1494.7 L924.8,1493.5 L925.8,1492.3 L926.7,1491.2 L927.6,1490.0 L928.6,1488.8 L929.5,1487.7 L930.5,1486.5 L931.4,1485.3 L932.4,1484.2 L933.3,1483.0 L934.3,1481.8 L935.3,1480.7 L936.2,1479.5 L937.2,1478.4 L938.1,1477.2 L939.1,1476.0 L940.0,1474.9 L940.9,1473.7 L941.9,1472.5 L942.8,1471.4 L943.7,1470.2 L944.7,1469.0 L945.6,1467.8 L946.5,1466.7 L947.4,1465.5 L948.4,1464.3 L949.3,1463.1 L950.2,1461.9 L951.1,1460.7 L951.9,1459.5 L952.8,1458.3 L953.7,1457.1 L954.6,1455.9 L955.4,1454.7 L956.3,1453.5 L957.1,1452.2 L957.9,1451.0 L958.8,1449.8 L959.6,1448.5 L960.4,1447.3 L961.2,1446.0 L962.0,1444.7 L962.7,1443.5 L963.5,1442.2 L964.3,1440.9 L965.0,1439.6 L965.7,1438.3 L966.5,1437.0 L967.2,1435.7 L967.9,1434.4 L968.6,1433.1 L969.3,1431.8 L970.0,1430.5 L970.7,1429.2 L971.4,1427.8 L972.0,1426.5 L972.7,1425.1 L973.4,1423.8 L974.0,1422.5 L974.7,1421.1 L975.3,1419.8 L975.9,1418.4 L976.6,1417.0 L977.2,1415.7 L977.8,1414.3 L978.4,1412.9 L979.0,1411.6 L979.6,1410.2 L980.2,1408.8 L980.8,1407.4 L981.4,1406.0 L982.0,1404.7 L982.6,1403.3 L983.1,1401.9 L983.7,1400.5 L984.3,1399.1 L984.8,1397.7 L985.4,1396.3 L986.0,1394.9 L986.5,1393.5 L987.1,1392.1 L987.6,1390.7 L988.2,1389.3 L988.7,1387.9 L989.3,1386.5 L989.8,1385.1 L990.4,1383.7 L990.9,1382.3 L991.5,1380.9 L992.0,1379.5 L992.6,1378.1 L993.1,1376.7 L993.7,1375.3 L994.2,1373.9 L994.7,1372.5 L995.3,1371.1 L995.8,1369.8 L996.4,1368.4 L996.9,1367.0 L997.4,1365.6 L998.0,1364.2 L998.5,1362.8 L999.1,1361.4 L999.6,1360.0 L1000.2,1358.6 L1000.7,1357.2 L1001.2,1355.8 L1001.8,1354.4 L1002.3,1353.0 L1002.9,1351.6 L1003.4,1350.2 L1004.0,1348.8 L1004.5,1347.4 L1005.1,1346.0 L1005.6,1344.7 L1006.2,1343.3 L1006.7,1341.9 L1007.3,1340.5 L1007.8,1339.1 L1008.4,1337.7 L1008.9,1336.3 L1009.5,1334.9 L1010.0,1333.5 L1010.6,1332.2 L1011.2,1330.8 L1011.7,1329.4 L1012.3,1328.0 L1012.9,1326.6 L1013.4,1325.2 L1014.0,1323.8 L1014.6,1322.5 L1015.2,1321.1 L1015.7,1319.7 L1016.3,1318.3 L1016.9,1316.9 L1017.5,1315.5 L1018.1,1314.2 L1018.7,1312.8 L1019.3,1311.4 L1020.0,1310.1 L1020.6,1308.7 L1021.2,1307.3 L1021.9,1306.0 L1022.6,1304.6 L1023.3,1303.3 L1024.0,1302.0 L1024.7,1300.6 L1025.4,1299.3 L1026.2,1298.0 L1026.9,1296.7 L1027.7,1295.4 L1028.5,1294.1 L1029.4,1292.8 L1030.2,1291.6 L1031.1,1290.3 L1032.0,1289.1 L1032.9,1287.8 L1033.9,1286.6 L1034.8,1285.4 L1035.8,1284.2 L1036.9,1283.0 L1037.9,1281.9 L1039.0,1280.8 L1040.0,1279.7 L1041.1,1278.6 L1042.3,1277.6 L1043.4,1276.6 L1044.5,1275.6 L1045.7,1274.7 L1046.9,1273.8 L1048.1,1272.9 L1049.4,1272.1 L1050.6,1271.4 L1051.9,1270.6 L1053.1,1270.0 L1054.4,1269.3 L1055.7,1268.8 L1057.1,1268.3 L1058.4,1267.8 L1059.7,1267.4 L1061.1,1267.1 L1062.5,1266.8 L1063.8,1266.6 L1065.2,1266.4 L1066.7,1266.4 L1068.1,1266.3 L1069.5,1266.4 L1070.9,1266.5 L1072.4,1266.7 L1073.8,1266.9 L1075.3,1267.1 L1076.8,1267.4 L1078.3,1267.7 L1079.7,1268.0 L1081.2,1268.4 L1082.7,1268.7 L1084.2,1269.0 L1085.8,1269.4 L1087.3,1269.7 L1088.8,1270.0 L1090.3,1270.2 L1091.9,1270.4 L1093.4,1270.6 L1094.9,1270.7 L1096.5,1270.8 L1098.0,1270.9 L1099.5,1270.9 L1101.0,1270.8 L1102.5,1270.7 L1104.0,1270.6 L1105.5,1270.4 L1106.9,1270.2 L1108.3,1269.9 L1109.7,1269.5 L1111.1,1269.1 L1112.5,1268.7 L1113.8,1268.2 L1115.1,1267.7 L1116.4,1267.1 L1117.7,1266.4 L1119.0,1265.8 L1120.3,1265.1 L1121.5,1264.3 L1122.7,1263.6 L1123.9,1262.7 L1125.2,1261.9 L1126.4,1261.0 L1127.5,1260.1 L1128.7,1259.2 L1129.9,1258.2 L1131.1,1257.3 L1132.2,1256.3 L1133.4,1255.2 L1134.6,1254.2 L1135.7,1253.2 L1136.9,1252.1 L1138.0,1251.0 L1139.2,1249.9 L1140.3,1248.8 L1141.5,1247.7 L1142.7,1246.6 L1143.8,1245.5 L1145.0,1244.4 L1146.2,1243.2 L1147.4,1242.1 L1148.6,1241.1 L1149.8,1240.0 L1151.0,1239.0 L1152.2,1237.9 L1153.4,1237.0 L1154.7,1236.1 L1155.9,1235.2 L1157.2,1234.4 L1158.5,1233.6 L1159.8,1233.0 L1161.1,1232.4 L1162.4,1231.8 L1163.7,1231.4 L1165.1,1231.1 L1166.4,1230.8 L1167.8,1230.7 L1169.2,1230.6 L1170.5,1230.7 L1171.9,1230.8 L1173.2,1231.1 L1174.5,1231.4 L1175.8,1231.9 L1177.1,1232.4 L1178.3,1233.1 L1179.5,1233.8 L1180.6,1234.6 L1181.7,1235.5 L1182.8,1236.5 L1183.8,1237.5 L1184.9,1238.6 L1185.8,1239.8 L1186.8,1241.0 L1187.7,1242.3 L1188.6,1243.6 L1189.5,1244.9 L1190.3,1246.3 L1191.2,1247.7 L1192.0,1249.1 L1192.7,1250.5 L1193.5,1251.9 L1194.2,1253.4 L1195.0,1254.8 L1195.7,1256.2 L1196.4,1257.6 L1197.0,1259.0 L1197.7,1260.4 L1198.3,1261.8 L1199.0,1263.2 L1199.6,1264.6 L1200.2,1266.0 L1200.8,1267.4 L1201.4,1268.8 L1201.9,1270.2 L1202.5,1271.6 L1203.0,1273.0 L1203.6,1274.4 L1204.1,1275.7 L1204.6,1277.1 L1205.2,1278.5 L1205.7,1279.9 L1206.2,1281.3 L1206.7,1282.7 L1207.2,1284.1 L1207.7,1285.5 L1208.2,1286.9 L1208.7,1288.3 L1209.2,1289.7 L1209.6,1291.1 L1210.1,1292.5 L1210.6,1293.9 L1211.1,1295.3 L1211.5,1296.7 L1212.0,1298.1 L1212.4,1299.5 L1212.9,1300.9 L1213.3,1302.3 L1213.8,1303.8 L1214.2,1305.2 L1214.7,1306.6 L1215.1,1308.0 L1215.5,1309.4 L1216.0,1310.9 L1216.4,1312.3 L1216.8,1313.7 L1217.2,1315.2 L1217.6,1316.6 L1218.0,1318.0 L1218.4,1319.5 L1218.8,1320.9 L1219.2,1322.3 L1219.6,1323.8 L1220.0,1325.2 L1220.4,1326.6 L1220.8,1328.1 L1221.2,1329.5 L1221.6,1331.0 L1221.9,1332.4 L1222.3,1333.9 L1222.7,1335.3 L1223.0,1336.8 L1223.4,1338.2 L1223.8,1339.7 L1224.1,1341.1 L1224.5,1342.6 L1224.8,1344.0 L1225.2,1345.5 L1225.5,1347.0 L1225.9,1348.4 L1226.2,1349.9 L1226.6,1351.3 L1226.9,1352.8 L1227.3,1354.3 L1227.6,1355.7 L1227.9,1357.2 L1228.3,1358.6 L1228.6,1360.1 L1228.9,1361.6 L1229.2,1363.0 L1229.6,1364.5 L1229.9,1366.0 L1230.2,1367.4 L1230.5,1368.9 L1230.8,1370.4 L1231.1,1371.9 L1231.4,1373.3 L1231.8,1374.8 L1232.1,1376.3 L1232.4,1377.7 L1232.7,1379.2 L1233.0,1380.7 L1233.3,1382.2 L1233.6,1383.6 L1233.9,1385.1 L1234.2,1386.6 L1234.5,1388.1 L1234.8,1389.5 L1235.1,1391.0 L1235.4,1392.5 L1235.7,1394.0 L1236.0,1395.4 L1236.2,1396.9 L1236.5,1398.4 L1236.8,1399.9 L1237.1,1401.3 L1237.4,1402.8 L1237.7,1404.3 L1238.0,1405.8 L1238.3,1407.2 L1238.5,1408.7 L1238.8,1410.2 L1239.1,1411.7 L1239.4,1413.2 L1239.7,1414.6 L1239.9,1416.1 L1240.2,1417.6 L1240.5,1419.1 L1240.8,1420.5 L1241.1,1422.0 L1241.3,1423.5 L1241.6,1425.0 L1241.9,1426.4 L1242.2,1427.9 L1242.4,1429.4 L1242.7,1430.9 L1243.0,1432.4 L1243.3,1433.8 L1243.5,1435.3 L1243.8,1436.8 L1244.1,1438.3 L1244.3,1439.7 L1244.6,1441.2 L1244.9,1442.7 L1245.1,1444.2 L1245.4,1445.6 L1245.7,1447.1 L1245.9,1448.6 L1246.2,1450.1 L1246.5,1451.6 L1246.7,1453.0 L1247.0,1454.5 L1247.3,1456.0 L1247.5,1457.5 L1247.8,1458.9 L1248.1,1460.4 L1248.3,1461.9 L1248.6,1463.4 L1248.8,1464.9 L1249.1,1466.3 L1249.4,1467.8 L1249.6,1469.3 L1249.9,1470.8 L1250.1,1472.2 L1250.4,1473.7 L1250.6,1475.2 L1250.9,1476.7 L1251.2,1478.2 L1251.4,1479.6 L1251.7,1481.1 L1251.9,1482.6 L1252.2,1484.1 L1252.4,1485.6 L1252.7,1487.0 L1252.9,1488.5 L1253.2,1490.0 L1253.4,1491.5 L1253.7,1492.9 L1253.9,1494.4 L1254.2,1495.9 L1254.4,1497.4 L1254.7,1498.9 L1254.9,1500.3 L1255.2,1501.8 L1255.4,1503.3 L1255.7,1504.8 L1255.9,1506.2 L1256.2,1507.7 L1256.4,1509.2 L1256.7,1510.7 L1256.9,1512.2 L1257.2,1513.6 L1257.4,1515.1 L1257.7,1516.6 L1257.9,1518.1 L1258.2,1519.6 L1258.4,1521.0 L1258.7,1522.5 L1258.9,1524.0 L1259.2,1525.5 L1259.4,1527.0 L1259.7,1528.4 L1259.9,1529.9 L1260.1,1531.4 L1260.4,1532.9 L1260.6,1534.3 L1260.9,1535.8 L1261.1,1537.3 L1261.4,1538.8 L1261.6,1540.3 L1261.9,1541.7 L1262.1,1543.2 L1262.3,1544.7 L1262.6,1546.2 L1262.8,1547.7 L1263.1,1549.1 L1263.3,1550.6 L1263.6,1552.1 L1263.8,1553.6 L1264.0,1555.1 L1264.3,1556.5 L1264.5,1558.0 L1264.8,1559.5 L1265.0,1561.0 L1265.3,1562.5 L1265.5,1563.9 L1265.7,1565.4 L1266.0,1566.9 L1266.2,1568.4 L1266.5,1569.8 L1266.7,1571.3 L1267.0,1572.8 L1267.2,1574.3 L1267.4,1575.8 L1267.7,1577.2 L1267.9,1578.7 L1268.2,1580.2 L1268.4,1581.7 L1268.7,1583.2 L1268.9,1584.6 L1269.2,1586.1 L1269.4,1587.6 L1269.6,1589.1 L1269.9,1590.6 L1270.1,1592.0 L1270.4,1593.5 L1270.6,1595.0 L1270.9,1596.5 L1271.1,1598.0 L1271.3,1599.4 L1271.6,1600.9 L1271.8,1602.4 L1272.1,1603.9 L1272.3,1605.4 L1272.6,1606.8 L1272.8,1608.3 L1273.1,1609.8 L1273.3,1611.3 L1273.6,1612.7 L1273.8,1614.2 L1274.0,1615.7 L1274.3,1617.2 L1274.5,1618.7 L1274.8,1620.1 L1275.0,1621.6 L1275.3,1623.1 L1275.5,1624.6 L1275.8,1626.1 L1276.0,1627.5 L1276.3,1629.0 L1276.5,1630.5 L1276.8,1632.0 L1277.0,1633.5 L1277.3,1634.9 L1277.5,1636.4 L1277.8,1637.9 L1278.0,1639.4 L1278.3,1640.8 L1278.5,1642.3 L1278.8,1643.8 L1279.0,1645.3 L1279.3,1646.8 L1279.5,1648.2 L1279.8,1649.7 L1280.1,1651.2 L1280.3,1652.7 L1280.6,1654.2 L1280.8,1655.6 L1281.1,1657.1 L1281.3,1658.6 L1281.6,1660.1 L1281.8,1661.5 L1282.1,1663.0 L1282.4,1664.5 L1282.6,1666.0 L1282.9,1667.5 L1283.1,1668.9 L1283.4,1670.4 L1283.6,1671.9 L1283.9,1673.4 L1284.2,1674.8 L1284.4,1676.3 L1284.7,1677.8 L1284.9,1679.3 L1285.2,1680.8 L1285.5,1682.2 L1285.7,1683.7 L1286.0,1685.2 L1286.3,1686.7 L1286.5,1688.1 L1286.8,1689.6 L1287.1,1691.1 L1287.3,1692.6 L1287.6,1694.1 L1287.9,1695.5 L1288.1,1697.0 L1288.4,1698.5 L1288.7,1700.0 L1288.9,1701.4 L1289.2,1702.9 L1289.5,1704.4 L1289.7,1705.9 L1290.0,1707.3 L1290.3,1708.8 L1290.6,1710.3 L1290.8,1711.8 L1291.1,1713.2 L1291.4,1714.7 L1291.7,1716.2 L1291.9,1717.7 L1292.2,1719.1 L1292.5,1720.6 L1292.8,1722.1 L1293.0,1723.6 L1293.3,1725.0 L1293.6,1726.5 L1293.9,1728.0 L1294.2,1729.5 L1294.4,1730.9 L1294.7,1732.4 L1295.0,1733.9 L1295.3,1735.4 L1295.6,1736.8 L1295.9,1738.3 L1296.1,1739.8 L1296.4,1741.2 L1296.7,1742.7 L1297.0,1744.2 L1297.3,1745.7 L1297.6,1747.1 L1297.9,1748.6 L1298.2,1750.1 L1298.4,1751.5 L1298.7,1753.0 L1299.0,1754.5 L1299.3,1756.0 L1299.6,1757.4 L1299.9,1758.9 L1300.2,1760.4 L1300.5,1761.8 L1300.8,1763.3 L1301.1,1764.8 L1301.4,1766.3 L1301.7,1767.7 L1302.0,1769.2 L1302.3,1770.7 L1302.6,1772.1 L1302.9,1773.6 L1303.2,1775.1 L1303.5,1776.5 L1303.8,1778.0 L1304.1,1779.5 L1304.4,1781.0 L1304.7,1782.4 L1305.1,1783.9 L1305.4,1785.4 L1305.7,1786.8 L1306.0,1788.3 L1306.3,1789.8 L1306.6,1791.2 L1306.9,1792.7 L1307.2,1794.2 L1307.6,1795.6 L1307.9,1797.1 L1308.2,1798.6 L1308.5,1800.0 L1308.8,1801.5 L1309.2,1803.0 L1309.5,1804.4 L1309.8,1805.9 L1310.1,1807.4 L1310.4,1808.8 L1310.8,1810.3 L1311.1,1811.7 L1311.4,1813.2 L1311.8,1814.7 L1312.1,1816.1 L1312.4,1817.6 L1312.7,1819.1 L1313.1,1820.5 L1313.4,1822.0 L1313.7,1823.5 L1314.1,1824.9 L1314.4,1826.4 L1314.8,1827.8 L1315.1,1829.3 L1315.4,1830.8 L1315.8,1832.2 L1316.1,1833.7 L1316.5,1835.2 L1316.8,1836.6 L1317.1,1838.1 L1317.5,1839.5 L1317.8,1841.0 L1318.2,1842.5 L1318.5,1843.9 L1318.9,1845.4 L1319.2,1846.8 L1319.6,1848.3 L1320.0,1849.7 L1320.3,1851.2 L1320.7,1852.7 L1321.0,1854.1 L1321.4,1855.6 L1321.8,1857.0 L1322.1,1858.5 L1322.5,1859.9 L1322.9,1861.4 L1323.2,1862.8 L1323.6,1864.3 L1324.0,1865.8 L1324.4,1867.2 L1324.7,1868.7 L1325.1,1870.1 L1325.5,1871.6 L1325.9,1873.0 L1326.3,1874.5 L1326.7,1875.9 L1327.1,1877.3 L1327.5,1878.8 L1327.9,1880.2 L1328.3,1881.7 L1328.7,1883.1 L1329.1,1884.6 L1329.5,1886.0 L1329.9,1887.4 L1330.3,1888.9 L1330.8,1890.3 L1331.2,1891.8 L1331.6,1893.2 L1332.0,1894.6 L1332.5,1896.1 L1332.9,1897.5 L1333.4,1898.9 L1333.8,1900.3 L1334.3,1901.8 L1334.7,1903.2 L1335.2,1904.6 L1335.6,1906.0 L1336.1,1907.5 L1336.6,1908.9 L1337.1,1910.3 L1337.5,1911.7 L1338.0,1913.1 L1338.5,1914.6 L1339.0,1916.0 L1339.5,1917.4 L1340.0,1918.8 L1340.5,1920.2 L1341.0,1921.6 L1341.5,1923.0 L1342.1,1924.4 L1342.6,1925.8 L1343.1,1927.2 L1343.6,1928.6 L1344.2,1930.0 L1344.7,1931.4 L1345.3,1932.8 L1345.8,1934.2 L1346.4,1935.6 L1347.0,1937.0 L1347.5,1938.4 L1348.1,1939.8 L1348.7,1941.1 L1349.3,1942.5 L1349.9,1943.9 L1350.5,1945.3 L1351.1,1946.6 L1351.7,1948.0 L1352.3,1949.4 L1353.0,1950.7 L1353.6,1952.1 L1354.2,1953.5 L1354.9,1954.8 L1355.5,1956.2 L1356.2,1957.6 L1356.9,1958.9 L1357.5,1960.3 L1358.2,1961.6 L1358.9,1963.0 L1359.6,1964.3 L1360.3,1965.6 L1361.0,1967.0 L1361.7,1968.3 L1362.4,1969.6 L1363.1,1971.0 L1363.9,1972.3 L1364.6,1973.6 L1365.4,1974.9 L1366.1,1976.2 L1366.9,1977.5 L1367.7,1978.8 L1368.5,1980.1 L1369.3,1981.4 L1370.1,1982.7 L1370.9,1983.9 L1371.7,1985.2 L1372.5,1986.4 L1373.4,1987.7 L1374.2,1988.9 L1375.1,1990.2 L1376.0,1991.4 L1376.8,1992.6 L1377.7,1993.8 L1378.6,1995.0 L1379.5,1996.2 L1380.5,1997.3 L1381.4,1998.5 L1382.4,1999.6 L1383.3,2000.8 L1384.3,2001.9 L1385.3,2003.0 L1386.3,2004.1 L1387.3,2005.2 L1388.3,2006.3 L1389.3,2007.4 L1390.4,2008.4 L1391.4,2009.5 L1392.5,2010.5 L1393.6,2011.5 L1394.7,2012.5 L1395.8,2013.5 L1396.9,2014.4 L1398.0,2015.4 L1399.2,2016.3 L1400.3,2017.3 L1401.5,2018.2 L1402.7,2019.1 L1403.9,2020.0 L1405.1,2020.9 L1406.3,2021.7 L1407.5,2022.6 L1408.7,2023.4 L1410.0,2024.2 L1411.2,2025.1 L1412.5,2025.9 L1413.8,2026.7 L1415.0,2027.5 L1416.3,2028.2 L1417.6,2029.0 L1418.9,2029.7 L1420.2,2030.5 L1421.6,2031.2 L1422.9,2032.0 L1424.2,2032.7 L1425.5,2033.4 L1426.9,2034.1 L1428.2,2034.8 L1429.6,2035.5 L1430.9,2036.1 L1432.3,2036.8 L1433.7,2037.5 L1435.0,2038.1 L1436.4,2038.8 L1437.8,2039.4 L1439.2,2040.0 L1440.6,2040.7 L1441.9,2041.3 L1443.3,2041.9 L1444.7,2042.5 L1446.1,2043.1 L1447.5,2043.7 L1448.9,2044.3 L1450.3,2044.9 L1451.7,2045.5 L1453.1,2046.1 L1454.5,2046.7 L1455.9,2047.2 L1457.3,2047.8 L1458.7,2048.4 L1460.1,2048.9 L1461.5,2049.5 L1462.9,2050.0 L1464.3,2050.6 L1465.6,2051.1 L1467.0,2051.7 L1468.4,2052.2 L1469.8,2052.8 L1471.2,2053.3 L1472.6,2053.8 L1474.0,2054.4 L1475.4,2054.9 L1476.8,2055.4 L1478.2,2055.9 L1479.6,2056.4 L1481.0,2056.9 L1482.4,2057.4 L1483.8,2057.9 L1485.2,2058.4 L1486.7,2058.9 L1488.1,2059.4 L1489.5,2059.9 L1490.9,2060.4 L1492.3,2060.9 L1493.7,2061.4 L1495.1,2061.9 L1496.5,2062.3 L1497.9,2062.8 L1499.3,2063.3 L1500.7,2063.7 L1502.2,2064.2 L1503.6,2064.7 L1505.0,2065.1 L1506.4,2065.6 L1507.8,2066.0 L1509.3,2066.5 L1510.7,2066.9 L1512.1,2067.4 L1513.5,2067.8 L1515.0,2068.3 L1516.4,2068.7 L1517.8,2069.1 L1519.2,2069.6 L1520.7,2070.0 L1522.1,2070.4 L1523.6,2070.8 L1525.0,2071.2 L1526.4,2071.7 L1527.9,2072.1 L1529.3,2072.5 L1530.7,2072.9 L1532.2,2073.3 L1533.6,2073.7 L1535.1,2074.1 L1536.5,2074.5 L1538.0,2074.9 L1539.4,2075.3 L1540.9,2075.7 L1542.3,2076.1 L1543.8,2076.4 L1545.2,2076.8 L1546.7,2077.2 L1548.1,2077.6 L1549.6,2077.9 L1551.1,2078.3 L1552.5,2078.7 L1554.0,2079.0 L1555.4,2079.4 L1556.9,2079.7 L1558.4,2080.1 L1559.8,2080.4 L1561.3,2080.7 L1562.8,2081.1 L1564.2,2081.4 L1565.7,2081.7 L1567.2,2082.1 L1568.6,2082.4 L1570.1,2082.7 L1571.6,2083.0 L1573.0,2083.3 L1574.5,2083.6 L1576.0,2083.9 L1577.5,2084.2 L1578.9,2084.5 L1580.4,2084.8 L1581.9,2085.1 L1583.4,2085.4 L1584.8,2085.7 L1586.3,2086.0 L1587.8,2086.2 L1589.3,2086.5 L1590.7,2086.8 L1592.2,2087.0 L1593.7,2087.3 L1595.2,2087.5 L1596.7,2087.8 L1598.1,2088.0 L1599.6,2088.2 L1601.1,2088.5 L1602.6,2088.7 L1604.1,2088.9 L1605.6,2089.1 L1607.0,2089.4 L1608.5,2089.6 L1610.0,2089.8 L1611.5,2090.0 L1613.0,2090.2 L1614.5,2090.4 L1615.9,2090.6 L1617.4,2090.7 L1618.9,2090.9 L1620.4,2091.1 L1621.9,2091.3 L1622.9,2091.4"/>
<path stroke="#f00" d="M251.5,1452.4 L252.0,1453.8 L252.4,1455.2 L252.9,1456.6 L253.4,1458.0 L253.8,1459.5 L254.2,1460.9 L254.7,1462.3 L255.1,1463.7 L255.5,1465.2 L255.9,1466.6 L256.3,1468.1 L256.7,1469.5 L257.1,1470.9 L257.5,1472.4 L257.9,1473.8 L258.3,1475.3 L258.7,1476.7 L259.1,1478.2 L259.4,1479.7 L259.8,1481.1 L260.2,1482.6 L260.6,1484.0 L260.9,1485.5 L261.3,1487.0 L261.7,1488.4 L262.1,1489.9 L262.5,1491.3 L262.8,1492.8 L263.2,1494.3 L263.6,1495.7 L264.0,1497.2 L264.4,1498.6 L264.8,1500.1 L265.2,1501.6 L265.6,1503.0 L266.0,1504.5 L266.4,1505.9 L266.9,1507.4 L267.3,1508.8 L267.8,1510.2 L268.2,1511.7 L268.7,1513.1 L269.1,1514.5 L269.6,1516.0 L270.1,1517.4 L270.6,1518.8 L271.1,1520.2 L271.7,1521.6 L272.2,1523.0 L272.7,1524.4 L273.3,1525.8 L273.9,1527.1 L274.5,1528.5 L275.1,1529.9 L275.7,1531.2 L276.4,1532.5 L277.0,1533.9 L277.7,1535.2 L278.4,1536.5 L279.1,1537.8 L279.8,1539.1 L280.6,1540.3 L281.4,1541.6 L282.1,1542.9 L282.9,1544.1 L283.8,1545.3 L284.6,1546.5 L285.5,1547.7 L286.4,1548.9 L287.3,1550.0 L288.2,1551.2 L289.1,1552.3 L290.1,1553.4 L291.1,1554.5 L292.1,1555.6 L293.1,1556.7 L294.1,1557.7 L295.2,1558.7 L296.3,1559.7 L297.4,1560.7 L298.6,1561.7 L299.7,1562.6 L300.9,1563.6 L302.1,1564.5 L303.3,1565.3 L304.6,1566.2 L305.9,1567.0 L307.2,1567.8 L308.5,1568.6 L309.9,1569.4 L311.2,1570.0 L312.3,1570.2 L312.9,1569.3 L313.2,1567.8 L313.4,1566.3 L313.6,1564.8 L313.7,1563.3 L313.8,1561.8 L314.0,1560.3 L314.1,1558.7 L314.3,1557.2 L314.5,1555.7 L314.8,1554.2 L315.2,1552.8 L315.9,1551.5 L317.1,1550.6 L318.5,1550.0 L319.9,1549.7 L321.4,1549.7 L322.9,1549.7 L324.4,1549.7 L325.9,1550.0 L327.3,1550.4 L328.7,1550.9 L330.2,1551.3 L331.7,1551.4 L333.1,1551.2 L334.4,1550.5 L335.6,1549.6 L336.8,1548.6 L338.0,1547.7 L339.1,1546.7 L340.3,1545.7 L341.4,1544.7 L342.5,1543.7 L343.6,1542.7 L344.7,1541.7 L345.8,1540.6 L346.9,1539.5 L347.9,1538.5 L348.9,1537.4 L349.9,1536.3 L350.9,1535.2 L351.8,1534.0 L352.8,1532.9 L353.7,1531.7 L354.5,1530.5 L355.4,1529.3 L356.2,1528.1 L357.0,1526.9 L357.8,1525.6 L358.6,1524.4 L359.3,1523.1 L360.0,1521.8 L360.7,1520.5 L361.3,1519.2 L362.0,1517.8 L362.6,1516.5 L363.2,1515.1 L363.7,1513.8 L364.3,1512.4 L364.9,1511.0 L365.4,1509.6 L365.9,1508.2 L366.5,1506.8 L367.0,1505.4 L367.5,1504.0 L368.0,1502.6 L368.5,1501.2 L369.1,1499.8 L369.6,1498.4 L370.1,1497.0 L370.6,1495.6 L371.2,1494.2 L371.7,1492.8 L372.2,1491.4 L372.8,1490.0 L373.3,1488.5 L373.9,1487.1 L374.4,1485.7 L375.0,1484.3 L375.5,1483.0 L376.1,1481.6 L376.6,1480.2 L377.2,1478.8 L377.7,1477.4 L378.3,1476.0 L378.9,1474.6 L379.4,1473.2 L380.0,1471.8 L380.6,1470.4 L381.1,1469.0 L381.7,1467.6 L382.3,1466.2 L382.8,1464.8 L383.4,1463.5 L384.0,1462.1 L384.5,1460.7 L385.1,1459.3 L385.7,1457.9 L386.2,1456.5 L386.8,1455.1 L387.4,1453.7 L387.9,1452.3 L388.5,1450.9 L389.1,1449.5 L389.6,1448.1 L390.2,1446.7 L390.8,1445.3 L391.3,1443.9 L391.9,1442.5 L392.4,1441.1 L393.0,1439.7 L393.6,1438.3 L394.1,1436.9 L394.7,1435.5 L395.2,1434.0 L395.8,1432.6 L396.4,1431.2 L396.9,1429.8 L397.5,1428.4 L398.1,1427.0 L398.7,1425.7 L399.4,1424.3 L400.0,1422.9 L400.7,1421.6 L401.4,1420.3 L402.1,1419.0 L402.8,1417.7 L403.6,1416.4 L404.4,1415.1 L405.2,1413.9 L406.0,1412.7 L406.9,1411.5 L407.8,1410.4 L408.7,1409.2 L409.7,1408.1 L410.6,1407.0 L411.7,1406.0 L412.7,1404.9 L413.8,1403.9 L414.9,1403.0 L416.0,1402.0 L417.1,1401.1 L418.3,1400.2 L419.5,1399.3 L420.7,1398.5 L421.9,1397.7 L423.2,1396.9 L424.5,1396.1 L425.8,1395.4 L427.1,1394.7 L428.5,1394.1 L429.9,1393.4 L431.3,1392.8 L432.7,1392.3 L434.1,1391.7 L435.5,1391.2 L437.0,1390.7 L438.4,1390.3 L439.9,1389.8 L441.4,1389.4 L442.9,1389.0 L444.3,1388.8 L445.4,1389.3 L446.0,1390.5 L446.6,1392.0 L447.1,1393.5 L447.5,1395.0 L447.9,1396.5 L448.2,1398.0 L448.6,1399.5 L449.1,1400.9 L449.6,1402.3 L450.1,1403.7 L450.7,1405.1 L451.2,1406.4 L451.9,1407.7 L452.5,1409.0 L453.2,1410.3 L454.0,1411.6 L454.7,1412.8 L455.5,1414.0 L456.4,1415.3 L457.2,1416.4 L458.1,1417.6 L459.0,1418.8 L459.9,1419.9 L460.9,1421.0 L461.8,1422.1 L462.8,1423.2 L463.9,1424.3 L464.9,1425.3 L466.0,1426.4 L467.0,1427.4 L468.1,1428.4 L469.2,1429.4 L470.4,1430.4 L471.5,1431.4 L472.7,1432.3 L473.8,1433.3 L475.0,1434.3 L476.2,1435.2 L477.4,1436.1 L478.6,1437.1 L479.8,1438.0 L481.0,1438.9 L482.2,1439.8 L483.4,1440.7 L484.7,1441.6 L485.9,1442.5 L487.1,1443.4 L488.4,1444.2 L489.6,1445.1 L490.8,1446.0 L492.0,1446.9 L493.3,1447.7 L494.5,1448.6 L495.7,1449.5 L496.9,1450.3 L498.1,1451.2 L499.3,1452.1 L500.4,1453.0 L501.6,1453.8 L502.8,1454.7 L503.9,1455.6 L505.0,1456.5 L506.2,1457.4 L507.3,1458.2 L508.4,1459.1 L509.5,1460.0 L510.6,1460.9 L511.8,1461.8 L512.9,1462.7 L514.0,1463.6 L515.2,1464.5 L516.4,1465.5 L517.5,1466.4 L518.7,1467.3 L520.0,1468.2 L521.2,1469.1 L522.5,1470.1 L523.8,1471.0 L525.1,1471.9 L526.4,1472.8 L527.8,1473.7 L529.2,1474.5 L530.6,1475.2 L532.0,1475.9 L533.4,1476.5 L534.8,1477.1 L536.2,1477.5 L537.6,1477.7 L539.1,1477.9 L540.5,1478.0 L541.9,1477.9 L543.3,1477.8 L544.7,1477.5 L546.1,1477.2 L547.4,1476.8 L548.8,1476.2 L550.1,1475.6 L551.4,1475.0 L552.6,1474.2 L553.9,1473.4 L555.1,1472.5 L556.2,1471.6 L557.4,1470.6 L558.5,1469.6 L559.5,1468.5 L560.5,1467.4 L561.5,1466.3 L562.4,1465.1 L563.3,1463.9 L564.1,1462.6 L564.9,1461.4 L565.7,1460.1 L566.5,1458.8 L567.2,1457.4 L567.9,1456.1 L568.6,1454.7 L569.2,1453.3 L569.9,1451.9 L570.5,1450.5 L571.1,1449.0 L571.7,1447.6 L572.4,1446.2 L573.0,1444.8 L573.6,1443.3 L574.2,1441.9 L574.8,1440.5 L575.4,1439.1 L576.0,1437.7 L576.6,1436.3 L577.2,1434.9 L577.9,1433.5 L578.5,1432.1 L579.1,1430.8 L579.8,1429.4 L580.4,1428.0 L581.1,1426.7 L581.7,1425.3 L582.4,1424.0 L583.0,1422.6 L583.7,1421.3 L584.3,1419.9 L585.0,1418.6 L585.6,1417.3 L586.3,1415.9 L586.9,1414.6 L587.6,1413.3 L588.3,1412.0 L588.9,1410.6 L589.6,1409.3 L590.2,1408.0 L590.9,1406.7 L591.5,1405.3 L592.2,1404.0 L592.9,1402.7 L593.5,1401.4 L594.2,1400.1 L594.9,1398.7 L595.5,1397.4 L596.2,1396.1 L596.9,1394.8 L597.6,1393.5 L598.3,1392.2 L599.0,1390.9 L599.7,1389.6 L600.4,1388.3 L601.1,1387.0 L601.9,1385.7 L602.6,1384.4 L603.4,1383.2 L604.1,1381.9 L604.9,1380.6 L605.7,1379.3 L606.5,1378.1 L607.3,1376.8 L608.1,1375.6 L609.0,1374.3 L609.8,1373.1 L610.7,1371.8 L611.6,1370.6 L612.5,1369.4 L613.4,1368.1 L614.3,1366.9 L615.2,1365.7 L616.2,1364.5 L617.2,1363.3 L618.2,1362.2 L619.2,1361.0 L620.2,1359.8 L621.3,1358.7 L622.4,1357.6 L623.5,1356.5 L624.6,1355.4 L625.7,1354.4 L626.8,1353.4 L628.0,1352.4 L629.2,1351.4 L630.4,1350.5 L631.6,1349.5 L632.9,1348.7 L634.1,1347.8 L635.4,1347.0 L636.7,1346.3 L638.0,1345.6 L639.4,1344.9 L640.7,1344.3 L642.1,1343.7 L643.5,1343.2 L644.9,1342.7 L646.3,1342.3 L647.7,1342.0 L649.1,1341.8 L650.5,1341.7 L651.9,1341.8 L653.3,1341.9 L654.6,1342.1 L656.0,1342.5 L657.3,1343.1 L658.6,1343.7 L659.8,1344.5 L661.0,1345.3 L662.2,1346.3 L663.3,1347.3 L664.4,1348.4 L665.5,1349.5 L666.5,1350.7 L667.5,1352.0 L668.4,1353.2 L669.3,1354.5 L670.1,1355.8 L670.9,1357.1 L671.6,1358.4 L672.4,1359.8 L673.1,1361.2 L673.7,1362.5 L674.4,1363.9 L675.0,1365.3 L675.6,1366.7 L676.1,1368.2 L676.7,1369.6 L677.2,1371.0 L677.8,1372.4 L678.3,1373.9 L678.8,1375.3 L679.3,1376.7 L679.8,1378.2 L680.3,1379.6 L680.8,1381.0 L681.2,1382.5 L681.7,1383.9 L682.2,1385.3 L682.6,1386.8 L683.1,1388.2 L683.5,1389.6 L683.9,1391.1 L684.4,1392.5 L684.8,1394.0 L685.2,1395.4 L685.6,1396.8 L686.0,1398.3 L686.4,1399.7 L686.8,1401.2 L687.2,1402.6 L687.6,1404.1 L688.0,1405.5 L688.4,1406.9 L688.8,1408.4 L689.2,1409.8 L689.5,1411.3 L689.9,1412.7 L690.3,1414.2 L690.6,1415.6 L691.0,1417.1 L691.4,1418.5 L691.7,1420.0 L692.1,1421.4 L692.5,1422.9 L692.8,1424.3 L693.2,1425.7 L693.5,1427.2 L693.9,1428.6 L694.2,1430.1 L694.6,1431.5 L695.0,1433.0 L695.3,1434.4 L695.7,1435.9 L696.0,1437.3 L696.4,1438.8 L696.7,1440.2 L697.1,1441.7 L697.5,1443.1 L697.8,1444.6 L698.2,1446.0 L698.6,1447.5 L698.9,1448.9 L699.3,1450.4 L699.6,1451.8 L700.0,1453.3 L700.4,1454.7 L700.7,1456.2 L701.1,1457.6 L701.4,1459.1 L701.8,1460.6 L702.2,1462.0 L702.5,1463.5 L702.9,1464.9 L703.2,1466.4 L703.6,1467.8 L704.0,1469.3 L704.3,1470.7 L704.7,1472.2 L705.0,1473.7 L705.4,1475.1 L705.7,1476.6 L706.1,1478.0 L706.5,1479.5 L706.8,1480.9 L707.2,1482.4 L707.5,1483.9 L707.9,1485.3 L708.2,1486.8 L708.6,1488.2 L709.0,1489.7 L709.3,1491.2 L709.7,1492.6 L710.0,1494.1 L710.4,1495.6 L710.7,1497.0 L711.1,1498.5 L711.4,1500.0 L711.8,1501.4 L712.1,1502.9 L712.5,1504.3 L712.9,1505.8 L713.2,1507.3 L713.6,1508.7 L713.9,1510.2 L714.3,1511.7 L714.7,1513.1 L715.0,1514.6 L715.4,1516.0 L715.8,1517.5 L716.1,1519.0 L716.5,1520.4 L716.9,1521.9 L717.2,1523.4 L717.6,1524.8 L718.0,1526.3 L718.4,1527.7 L718.7,1529.2 L719.1,1530.6 L719.5,1532.1 L719.9,1533.5 L720.3,1535.0 L720.7,1536.5 L721.1,1537.9 L721.5,1539.4 L721.9,1540.8 L722.3,1542.3 L722.7,1543.7 L723.1,1545.1 L723.5,1546.6 L723.9,1548.0 L724.3,1549.5 L724.7,1550.9 L725.1,1552.4 L725.5,1553.8 L726.0,1555.2 L726.4,1556.7 L726.8,1558.1 L727.3,1559.5 L727.7,1561.0 L728.1,1562.4 L728.6,1563.8 L729.0,1565.2 L729.5,1566.7 L729.9,1568.1 L730.4,1569.5 L730.9,1570.9 L731.3,1572.3 L731.8,1573.8 L732.3,1575.2 L732.8,1576.6 L733.2,1578.0 L733.7,1579.4 L734.2,1580.8 L734.7,1582.2 L735.2,1583.6 L735.7,1585.0 L736.2,1586.4 L736.8,1587.8 L737.3,1589.2 L737.8,1590.6 L738.3,1592.0 L738.9,1593.3 L739.4,1594.7 L740.0,1596.1 L740.5,1597.5 L741.1,1598.8 L741.7,1600.2 L742.2,1601.6 L742.8,1603.0 L743.4,1604.3 L744.0,1605.7 L744.6,1607.0 L745.2,1608.4 L745.8,1609.7 L746.4,1611.1 L747.0,1612.5 L747.7,1613.8 L748.3,1615.1 L749.0,1616.5 L749.6,1617.8 L750.3,1619.2 L751.0,1620.5 L751.7,1621.8 L752.3,1623.2 L753.0,1624.5 L753.8,1625.8 L754.5,1627.2 L755.2,1628.5 L755.9,1629.8 L756.7,1631.1 L757.4,1632.4 L758.2,1633.7 L759.0,1635.1 L759.8,1636.4 L760.6,1637.7 L761.4,1639.0 L762.2,1640.3 L763.0,1641.6 L763.9,1642.9 L764.7,1644.2 L765.6,1645.5 L766.4,1646.8 L767.3,1648.0 L768.2,1649.3 L769.1,1650.6 L770.1,1651.9 L771.0,1653.1 L772.0,1654.3 L772.9,1655.5 L773.9,1656.7 L774.9,1657.9 L775.9,1659.0 L777.0,1660.1 L778.0,1661.2 L779.1,1662.3 L780.2,1663.3 L781.3,1664.3 L782.5,1665.2 L783.6,1666.1 L784.8,1667.0 L786.0,1667.8 L787.3,1668.5 L788.5,1669.2 L789.8,1669.9 L791.1,1670.5 L792.5,1671.0 L793.8,1671.5 L795.2,1671.9 L796.6,1672.3 L798.1,1672.6 L799.5,1672.8 L801.0,1673.0 L802.5,1673.0 L804.0,1673.0 L805.4,1673.0 L806.9,1672.8 L808.4,1672.6 L809.9,1672.3 L811.3,1671.9 L812.8,1671.4 L814.2,1670.9 L815.6,1670.4 L817.0,1669.7 L818.4,1669.1 L819.8,1668.4 L821.2,1667.7 L822.6,1666.9 L824.0,1666.2 L825.3,1665.4 L826.6,1664.6 L828.0,1663.8 L829.3,1663.0 L830.5,1662.2 L831.8,1661.3 L833.0,1660.4 L834.1,1659.5 L835.2,1658.5 L836.3,1657.5 L837.3,1656.5 L838.2,1655.4 L839.0,1654.3 L839.8,1653.1 L840.5,1651.8 L841.2,1650.5 L841.7,1649.2 L842.2,1647.7 L842.5,1646.2 L842.9,1644.8 L843.7,1643.5 L844.7,1642.5 L845.9,1641.4 L846.9,1640.4 L848.0,1639.4 L849.1,1638.3 L850.1,1637.3 L851.2,1636.2 L852.2,1635.1 L853.2,1634.0 L854.2,1632.9 L855.2,1631.8 L856.2,1630.6 L857.1,1629.5 L858.1,1628.3 L859.0,1627.2 L859.9,1626.0 L860.8,1624.8 L861.7,1623.6 L862.6,1622.4 L863.5,1621.2 L864.3,1620.0 L865.2,1618.7 L866.0,1617.5 L866.8,1616.3 L867.7,1615.0 L868.5,1613.7 L869.3,1612.5 L870.1,1611.2 L870.8,1609.9 L871.6,1608.6 L872.4,1607.3 L873.1,1606.0 L873.9,1604.7 L874.6,1603.4 L875.4,1602.1 L876.1,1600.8 L876.8,1599.5 L877.6,1598.2 L878.3,1596.8 L879.0,1595.5 L879.7,1594.2 L880.4,1592.8 L881.1,1591.5 L881.7,1590.1 L882.4,1588.8 L883.1,1587.5 L883.8,1586.1 L884.4,1584.8 L885.1,1583.4 L885.8,1582.1 L886.4,1580.7 L887.1,1579.3 L887.7,1578.0 L888.4,1576.6 L889.0,1575.3 L889.6,1573.9 L890.3,1572.6 L890.9,1571.2 L891.5,1569.8 L892.2,1568.5 L892.8,1567.1 L893.4,1565.7 L894.0,1564.4 L894.6,1563.0 L895.2,1561.6 L895.8,1560.3 L896.4,1558.9 L897.0,1557.5 L897.6,1556.2 L898.2,1554.8 L898.8,1553.4 L899.4,1552.0 L900.0,1550.7 L900.6,1549.3 L901.2,1547.9 L901.8,1546.5 L902.3,1545.1 L902.9,1543.8 L903.5,1542.4 L904.1,1541.0 L904.6,1539.6 L905.2,1538.2 L905.8,1536.8 L906.3,1535.5 L906.9,1534.1 L907.4,1532.7 L908.0,1531.3 L908.6,1529.9 L909.1,1528.5 L909.7,1527.1 L910.2,1525.7 L910.8,1524.3 L911.3,1523.0 L911.9,1521.6 L912.4,1520.2 L913.0,1518.8 L913.5,1517.4 L914.1,1516.0 L914.6,1514.6 L915.2,1513.2 L915.7,1511.8 L916.2,1510.4 L916.8,1509.0 L917.3,1507.6 L917.9,1506.2 L918.4,1504.8 L918.9,1503.4 L919.5,1502.0 L920.0,1500.6 L920.6,1499.2 L921.1,1497.8 L921.6,1496.5 L922.2,1495.1 L922.7,1493.7 L923.2,1492.3 L923.8,1490.9 L924.3,1489.5 L924.9,1488.1 L925.4,1486.7 L925.9,1485.3 L926.5,1483.9 L927.0,1482.5 L927.5,1481.1 L928.1,1479.7 L928.6,1478.3 L929.2,1476.9 L929.7,1475.5 L930.2,1474.1 L930.8,1472.7 L931.3,1471.3 L931.9,1469.9 L932.4,1468.5 L933.0,1467.1 L933.5,1465.7 L934.1,1464.3 L934.6,1462.9 L935.2,1461.5 L935.7,1460.1 L936.3,1458.7 L936.8,1457.3 L937.4,1455.9 L937.9,1454.5 L938.5,1453.1 L939.1,1451.7 L939.6,1450.3 L940.2,1448.9 L940.8,1447.5 L941.3,1446.2 L941.9,1444.8 L942.5,1443.4 L943.0,1442.0 L943.6,1440.6 L944.2,1439.2 L944.8,1437.8 L945.3,1436.4 L945.9,1435.0 L946.5,1433.7 L947.1,1432.3 L947.7,1430.9 L948.3,1429.5 L948.9,1428.1 L949.5,1426.8 L950.1,1425.4 L950.7,1424.0 L951.3,1422.6 L951.9,1421.2 L952.5,1419.9 L953.1,1418.5 L953.7,1417.1 L954.3,1415.7 L954.9,1414.4 L955.5,1413.0 L956.1,1411.6 L956.8,1410.3 L957.4,1408.9 L958.0,1407.5 L958.7,1406.2 L959.3,1404.8 L959.9,1403.5 L960.6,1402.1 L961.2,1400.8 L961.9,1399.4 L962.5,1398.0 L963.2,1396.7 L963.8,1395.3 L964.5,1394.0 L965.1,1392.6 L965.8,1391.3 L966.5,1390.0 L967.2,1388.6 L967.8,1387.3 L968.5,1385.9 L969.2,1384.6 L969.9,1383.3 L970.6,1381.9 L971.3,1380.6 L972.0,1379.3 L972.7,1378.0 L973.4,1376.6 L974.1,1375.3 L974.8,1374.0 L975.5,1372.7 L976.2,1371.4 L976.9,1370.0 L977.7,1368.7 L978.4,1367.4 L979.1,1366.1 L979.9,1364.8 L980.6,1363.5 L981.4,1362.2 L982.1,1360.9 L982.9,1359.6 L983.6,1358.3 L984.4,1357.0 L985.2,1355.7 L986.0,1354.5 L986.7,1353.2 L987.5,1351.9 L988.3,1350.6 L989.1,1349.3 L989.9,1348.1 L990.7,1346.8 L991.5,1345.5 L992.3,1344.3 L993.1,1343.0 L994.0,1341.8 L994.8,1340.5 L995.6,1339.2 L996.5,1338.0 L997.3,1336.8 L998.2,1335.5 L999.0,1334.3 L999.9,1333.1 L1000.7,1331.8 L1001.6,1330.6 L1002.5,1329.4 L1003.4,1328.2 L1004.3,1327.0 L1005.2,1325.8 L1006.1,1324.6 L1007.0,1323.4 L1007.9,1322.3 L1008.9,1321.1 L1009.8,1319.9 L1010.7,1318.8 L1011.7,1317.6 L1012.6,1316.5 L1013.6,1315.3 L1014.6,1314.2 L1015.6,1313.1 L1016.5,1312.0 L1017.5,1310.9 L1018.5,1309.8 L1019.6,1308.7 L1020.6,1307.6 L1021.6,1306.5 L1022.6,1305.4 L1023.7,1304.4 L1024.7,1303.3 L1025.8,1302.3 L1026.9,1301.2 L1028.0,1300.2 L1029.1,1299.2 L1030.2,1298.2 L1031.3,1297.2 L1032.4,1296.2 L1033.5,1295.2 L1034.6,1294.2 L1035.8,1293.3 L1036.9,1292.3 L1038.0,1291.4 L1039.2,1290.4 L1040.4,1289.5 L1041.5,1288.5 L1042.7,1287.6 L1043.9,1286.7 L1045.1,1285.8 L1046.3,1284.8 L1047.5,1283.9 L1048.7,1283.0 L1049.9,1282.1 L1051.1,1281.2 L1052.3,1280.3 L1053.5,1279.5 L1054.7,1278.6 L1055.9,1277.7 L1057.2,1276.8 L1058.4,1275.9 L1059.6,1275.1 L1060.9,1274.2 L1062.1,1273.3 L1063.3,1272.5 L1064.6,1271.6 L1065.8,1270.8 L1067.1,1269.9 L1068.3,1269.1 L1069.5,1268.2 L1070.8,1267.4 L1072.0,1266.5 L1073.3,1265.7 L1074.5,1264.8 L1075.8,1264.0 L1077.0,1263.1 L1078.3,1262.3 L1079.5,1261.4 L1080.8,1260.6 L1082.0,1259.7 L1083.3,1258.9 L1084.5,1258.0 L1085.7,1257.1 L1087.0,1256.3 L1088.2,1255.4 L1089.5,1254.6 L1090.7,1253.7 L1092.0,1252.9 L1093.2,1252.1 L1094.4,1251.2 L1095.7,1250.4 L1097.0,1249.6 L1098.2,1248.7 L1099.5,1247.9 L1100.7,1247.1 L1102.0,1246.3 L1103.3,1245.5 L1104.6,1244.8 L1105.9,1244.0 L1107.2,1243.2 L1108.5,1242.5 L1109.8,1241.8 L1111.1,1241.0 L1112.5,1240.3 L1113.8,1239.6 L1115.2,1239.0 L1116.6,1238.3 L1117.9,1237.7 L1119.3,1237.1 L1120.7,1236.5 L1122.1,1235.9 L1123.5,1235.3 L1124.9,1234.8 L1126.4,1234.3 L1127.8,1233.8 L1129.2,1233.4 L1130.7,1233.0 L1132.2,1232.6 L1133.6,1232.2 L1135.1,1231.9 L1136.6,1231.6 L1138.0,1231.4 L1139.5,1231.2 L1141.0,1231.0 L1142.5,1230.8 L1143.9,1230.7 L1145.4,1230.7 L1146.9,1230.6 L1148.4,1230.7 L1149.8,1230.7 L1151.3,1230.8 L1152.8,1230.9 L1154.2,1231.1 L1155.7,1231.3 L1157.1,1231.6 L1158.5,1231.9 L1159.9,1232.3 L1161.3,1232.7 L1162.7,1233.1 L1164.1,1233.6 L1165.5,1234.1 L1166.8,1234.7 L1168.2,1235.3 L1169.5,1235.9 L1170.8,1236.6 L1172.1,1237.3 L1173.4,1238.0 L1174.7,1238.8 L1176.0,1239.6 L1177.2,1240.4 L1178.5,1241.2 L1179.7,1242.1 L1180.9,1243.0 L1182.1,1243.9 L1183.3,1244.8 L1184.5,1245.8 L1185.6,1246.7 L1186.8,1247.7 L1187.9,1248.7 L1189.0,1249.7 L1190.1,1250.7 L1191.2,1251.7 L1192.3,1252.8 L1193.4,1253.8 L1194.4,1254.8 L1195.5,1255.9 L1196.5,1257.0 L1197.5,1258.1 L1198.5,1259.2 L1199.5,1260.3 L1200.5,1261.4 L1201.4,1262.5 L1202.4,1263.6 L1203.3,1264.8 L1204.2,1265.9 L1205.2,1267.1 L1206.1,1268.3 L1207.0,1269.4 L1207.8,1270.6 L1208.7,1271.8 L1209.6,1273.0 L1210.5,1274.2 L1211.3,1275.5 L1212.1,1276.7 L1213.0,1277.9 L1213.8,1279.2 L1214.6,1280.4 L1215.4,1281.7 L1216.2,1282.9 L1217.0,1284.2 L1217.8,1285.4 L1218.5,1286.7 L1219.3,1288.0 L1220.1,1289.3 L1220.8,1290.6 L1221.5,1291.9 L1222.3,1293.2 L1223.0,1294.5 L1223.7,1295.8 L1224.5,1297.2 L1225.2,1298.5 L1225.9,1299.8 L1226.6,1301.1 L1227.3,1302.5 L1228.0,1303.8 L1228.6,1305.2 L1229.3,1306.5 L1230.0,1307.9 L1230.7,1309.2 L1231.3,1310.6 L1232.0,1311.9 L1232.6,1313.3 L1233.3,1314.7 L1234.0,1316.0 L1234.6,1317.4 L1235.3,1318.8 L1235.9,1320.1 L1236.5,1321.5 L1237.2,1322.9 L1237.8,1324.2 L1238.4,1325.6 L1239.1,1327.0 L1239.7,1328.4 L1240.3,1329.8 L1241.0,1331.1 L1241.6,1332.5 L1242.2,1333.9 L1242.8,1335.3 L1243.5,1336.6 L1244.1,1338.0 L1244.7,1339.4 L1245.3,1340.8 L1245.9,1342.2 L1246.6,1343.5 L1247.2,1344.9 L1247.8,1346.3 L1248.4,1347.7 L1249.0,1349.1 L1249.6,1350.4 L1250.2,1351.8 L1250.8,1353.2 L1251.4,1354.6 L1252.0,1356.0 L1252.7,1357.4 L1253.3,1358.7 L1253.9,1360.1 L1254.5,1361.5 L1255.1,1362.9 L1255.6,1364.3 L1256.2,1365.7 L1256.8,1367.1 L1257.4,1368.4 L1258.0,1369.8 L1258.6,1371.2 L1259.2,1372.6 L1259.8,1374.0 L1260.4,1375.4 L1261.0,1376.8 L1261.5,1378.2 L1262.1,1379.5 L1262.7,1380.9 L1263.3,1382.3 L1263.9,1383.7 L1264.4,1385.1 L1265.0,1386.5 L1265.6,1387.9 L1266.2,1389.3 L1266.7,1390.7 L1267.3,1392.1 L1267.9,1393.5 L1268.4,1394.9 L1269.0,1396.2 L1269.6,1397.6 L1270.1,1399.0 L1270.7,1400.4 L1271.3,1401.8 L1271.8,1403.2 L1272.4,1404.6 L1272.9,1406.0 L1273.5,1407.4 L1274.0,1408.8 L1274.6,1410.2 L1275.1,1411.6 L1275.7,1413.0 L1276.2,1414.4 L1276.8,1415.8 L1277.3,1417.2 L1277.9,1418.6 L1278.4,1420.0 L1279.0,1421.4 L1279.5,1422.8 L1280.1,1424.2 L1280.6,1425.6 L1281.1,1427.0 L1281.7,1428.4 L1282.2,1429.8 L1282.7,1431.2 L1283.3,1432.6 L1283.8,1434.0 L1284.3,1435.4 L1284.9,1436.8 L1285.4,1438.2 L1285.9,1439.6 L1286.4,1441.0 L1287.0,1442.4 L1287.5,1443.8 L1288.0,1445.2 L1288.5,1446.6 L1289.0,1448.0 L1289.6,1449.4 L1290.1,1450.9 L1290.6,1452.3 L1291.1,1453.7 L1291.6,1455.1 L1292.1,1456.5 L1292.6,1457.9 L1293.1,1459.3 L1293.6,1460.7 L1294.1,1462.1 L1294.7,1463.5 L1295.2,1464.9 L1295.7,1466.4 L1296.2,1467.8 L1296.7,1469.2 L1297.2,1470.6 L1297.7,1472.0 L1298.1,1473.4 L1298.6,1474.8 L1299.1,1476.3 L1299.6,1477.7 L1300.1,1479.1 L1300.6,1480.5 L1301.1,1481.9 L1301.6,1483.3 L1302.1,1484.7 L1302.5,1486.2 L1303.0,1487.6 L1303.5,1489.0 L1304.0,1490.4 L1304.5,1491.8 L1304.9,1493.2 L1305.4,1494.7 L1305.9,1496.1 L1306.4,1497.5 L1306.8,1498.9 L1307.3,1500.3 L1307.8,1501.8 L1308.3,1503.2 L1308.7,1504.6 L1309.2,1506.0 L1309.7,1507.5 L1310.1,1508.9 L1310.6,1510.3 L1311.0,1511.7 L1311.5,1513.1 L1312.0,1514.6 L1312.4,1516.0 L1312.9,1517.4 L1313.3,1518.8 L1313.8,1520.3 L1314.2,1521.7 L1314.7,1523.1 L1315.1,1524.6 L1315.6,1526.0 L1316.0,1527.4 L1316.5,1528.8 L1316.9,1530.3 L1317.4,1531.7 L1317.8,1533.1 L1318.3,1534.6 L1318.7,1536.0 L1319.1,1537.4 L1319.6,1538.9 L1320.0,1540.3 L1320.4,1541.7 L1320.9,1543.1 L1321.3,1544.6 L1321.7,1546.0 L1322.2,1547.4 L1322.6,1548.9 L1323.0,1550.3 L1323.5,1551.7 L1323.9,1553.2 L1324.3,1554.6 L1324.7,1556.1 L1325.1,1557.5 L1325.6,1558.9 L1326.0,1560.4 L1326.4,1561.8 L1326.8,1563.2 L1327.2,1564.7 L1327.6,1566.1 L1328.1,1567.6 L1328.5,1569.0 L1328.9,1570.4 L1329.3,1571.9 L1329.7,1573.3 L1330.1,1574.8 L1330.5,1576.2 L1330.9,1577.6 L1331.3,1579.1 L1331.7,1580.5 L1332.1,1582.0 L1332.5,1583.4 L1332.9,1584.9 L1333.3,1586.3 L1333.7,1587.8 L1334.1,1589.2 L1334.5,1590.7 L1334.9,1592.1 L1335.3,1593.5 L1335.7,1595.0 L1336.1,1596.4 L1336.5,1597.9 L1336.8,1599.3 L1337.2,1600.8 L1337.6,1602.2 L1338.0,1603.7 L1338.4,1605.1 L1338.8,1606.6 L1339.1,1608.0 L1339.5,1609.5 L1339.9,1610.9 L1340.3,1612.4 L1340.7,1613.8 L1341.0,1615.3 L1341.4,1616.7 L1341.8,1618.2 L1342.2,1619.6 L1342.5,1621.1 L1342.9,1622.6 L1343.3,1624.0 L1343.7,1625.5 L1344.0,1626.9 L1344.4,1628.4 L1344.8,1629.8 L1345.2,1631.3 L1345.5,1632.7 L1345.9,1634.2 L1346.3,1635.6 L1346.6,1637.1 L1347.0,1638.5 L1347.4,1640.0 L1347.7,1641.5 L1348.1,1642.9 L1348.5,1644.4 L1348.8,1645.8 L1349.2,1647.3 L1349.6,1648.7 L1349.9,1650.2 L1350.3,1651.7 L1350.7,1653.1 L1351.0,1654.6 L1351.4,1656.0 L1351.8,1657.5 L1352.1,1658.9 L1352.5,1660.4 L1352.9,1661.8 L1353.2,1663.3 L1353.6,1664.8 L1353.9,1666.2 L1354.3,1667.7 L1354.7,1669.1 L1355.0,1670.6 L1355.4,1672.0 L1355.8,1673.5 L1356.1,1675.0 L1356.5,1676.4 L1356.9,1677.9 L1357.2,1679.3 L1357.6,1680.8 L1358.0,1682.2 L1358.3,1683.7 L1358.7,1685.2 L1359.1,1686.6 L1359.4,1688.1 L1359.8,1689.5 L1360.2,1691.0 L1360.5,1692.4 L1360.9,1693.9 L1361.3,1695.4 L1361.6,1696.8 L1362.0,1698.3 L1362.4,1699.7 L1362.7,1701.2 L1363.1,1702.6 L1363.5,1704.1 L1363.9,1705.5 L1364.2,1707.0 L1364.6,1708.4 L1365.0,1709.9 L1365.4,1711.4 L1365.7,1712.8 L1366.1,1714.3 L1366.5,1715.7 L1366.9,1717.2 L1367.2,1718.6 L1367.6,1720.1 L1368.0,1721.5 L1368.4,1723.0 L1368.8,1724.4 L1369.2,1725.9 L1369.5,1727.3 L1369.9,1728.8 L1370.3,1730.2 L1370.7,1731.7 L1371.1,1733.1 L1371.5,1734.6 L1371.9,1736.0 L1372.2,1737.5 L1372.6,1738.9 L1373.0,1740.4 L1373.4,1741.8 L1373.8,1743.3 L1374.2,1744.7 L1374.6,1746.2 L1375.0,1747.6 L1375.4,1749.1 L1375.8,1750.5 L1376.2,1752.0 L1376.6,1753.4 L1377.0,1754.8 L1377.4,1756.3 L1377.8,1757.7 L1378.3,1759.2 L1378.7,1760.6 L1379.1,1762.1 L1379.5,1763.5 L1379.9,1764.9 L1380.3,1766.4 L1380.7,1767.8 L1381.2,1769.3 L1381.6,1770.7 L1382.0,1772.1 L1382.4,1773.6 L1382.8,1775.0 L1383.3,1776.5 L1383.7,1777.9 L1384.1,1779.3 L1384.6,1780.8 L1385.0,1782.2 L1385.4,1783.6 L1385.9,1785.1 L1386.3,1786.5 L1386.8,1787.9 L1387.2,1789.4 L1387.6,1790.8 L1388.1,1792.2 L1388.5,1793.7 L1389.0,1795.1 L1389.4,1796.5 L1389.9,1798.0 L1390.4,1799.4 L1390.8,1800.8 L1391.3,1802.2 L1391.7,1803.7 L1392.2,1805.1 L1392.7,1806.5 L1393.1,1807.9 L1393.6,1809.4 L1394.1,1810.8 L1394.6,1812.2 L1395.0,1813.6 L1395.5,1815.0 L1396.0,1816.5 L1396.5,1817.9 L1397.0,1819.3 L1397.5,1820.7 L1397.9,1822.1 L1398.4,1823.6 L1398.9,1825.0 L1399.4,1826.4 L1399.9,1827.8 L1400.4,1829.2 L1400.9,1830.6 L1401.5,1832.0 L1402.0,1833.4 L1402.5,1834.9 L1403.0,1836.3 L1403.5,1837.7 L1404.0,1839.1 L1404.6,1840.5 L1405.1,1841.9 L1405.6,1843.3 L1406.1,1844.7 L1406.7,1846.1 L1407.2,1847.5 L1407.8,1848.9 L1408.3,1850.3 L1408.8,1851.7 L1409.4,1853.1 L1409.9,1854.5 L1410.5,1855.9 L1411.1,1857.3 L1411.6,1858.7 L1412.2,1860.1 L1412.7,1861.5 L1413.3,1862.9 L1413.9,1864.2 L1414.4,1865.6 L1415.0,1867.0 L1415.6,1868.4 L1416.2,1869.8 L1416.8,1871.2 L1417.4,1872.6 L1417.9,1873.9 L1418.5,1875.3 L1419.1,1876.7 L1419.7,1878.1 L1420.3,1879.4 L1420.9,1880.8 L1421.6,1882.2 L1422.2,1883.6 L1422.8,1884.9 L1423.4,1886.3 L1424.0,1887.7 L1424.6,1889.0 L1425.3,1890.4 L1425.9,1891.8 L1426.5,1893.1 L1427.2,1894.5 L1427.8,1895.8 L1428.4,1897.2 L1429.1,1898.5 L1429.7,1899.9 L1430.4,1901.3 L1431.0,1902.6 L1431.7,1904.0 L1432.4,1905.3 L1433.0,1906.6 L1433.7,1908.0 L1434.4,1909.3 L1435.0,1910.7 L1435.7,1912.0 L1436.4,1913.3 L1437.1,1914.7 L1437.8,1916.0 L1438.5,1917.3 L1439.2,1918.7 L1439.8,1920.0 L1440.5,1921.3 L1441.3,1922.6 L1442.0,1924.0 L1442.7,1925.3 L1443.4,1926.6 L1444.1,1927.9 L1444.8,1929.2 L1445.5,1930.5 L1446.3,1931.8 L1447.0,1933.2 L1447.7,1934.5 L1448.5,1935.8 L1449.2,1937.1 L1450.0,1938.4 L1450.7,1939.7 L1451.5,1940.9 L1452.2,1942.2 L1453.0,1943.5 L1453.7,1944.8 L1454.5,1946.1 L1455.3,1947.4 L1456.0,1948.7 L1456.8,1949.9 L1457.6,1951.2 L1458.4,1952.5 L1459.2,1953.8 L1460.0,1955.0 L1460.8,1956.3 L1461.6,1957.6 L1462.4,1958.8 L1463.2,1960.1 L1464.0,1961.3 L1464.8,1962.6 L1465.6,1963.8 L1466.4,1965.1 L1467.3,1966.3 L1468.1,1967.6 L1468.9,1968.8 L1469.8,1970.1 L1470.6,1971.3 L1471.4,1972.5 L1472.3,1973.8 L1473.1,1975.0 L1474.0,1976.2 L1474.9,1977.4 L1475.7,1978.7 L1476.6,1979.9 L1477.5,1981.1 L1478.3,1982.3 L1479.2,1983.5 L1480.1,1984.7 L1481.0,1985.9 L1481.9,1987.1 L1482.8,1988.3 L1483.7,1989.5 L1484.6,1990.7 L1485.5,1991.9 L1486.4,1993.1 L1487.3,1994.3 L1488.2,1995.5 L1489.1,1996.6 L1490.1,1997.8 L1491.0,1999.0 L1491.9,2000.2 L1492.9,2001.3 L1493.8,2002.5 L1494.8,2003.6 L1495.7,2004.8 L1496.7,2006.0 L1497.6,2007.1 L1498.6,2008.2 L1499.6,2009.4 L1500.5,2010.5 L1501.5,2011.7 L1502.5,2012.8 L1503.5,2013.9 L1504.5,2015.1 L1505.5,2016.2 L1506.5,2017.3 L1507.5,2018.4 L1508.5,2019.5 L1509.5,2020.7 L1510.5,2021.8 L1511.5,2022.9 L1512.6,2024.0 L1513.6,2025.1 L1514.6,2026.2 L1515.7,2027.2 L1516.7,2028.3 L1517.7,2029.4 L1518.8,2030.5 L1519.8,2031.6 L1520.9,2032.7 L1522.0,2033.7 L1523.0,2034.8 L1524.1,2035.9 L1525.2,2036.9 L1526.2,2038.0 L1527.3,2039.1 L1528.4,2040.1 L1529.5,2041.2 L1530.6,2042.2 L1531.6,2043.3 L1532.7,2044.3 L1533.8,2045.4 L1534.9,2046.4 L1536.0,2047.4 L1537.1,2048.5 L1538.2,2049.5 L1539.3,2050.5 L1540.4,2051.6 L1541.5,2052.6 L1542.6,2053.6 L1543.7,2054.7 L1544.8,2055.7 L1545.9,2056.7 L1547.0,2057.7 L1548.2,2058.8 L1549.3,2059.8 L1550.4,2060.8 L1551.5,2061.8 L1552.6,2062.8 L1553.7,2063.8 L1554.8,2064.9 L1556.0,2065.9 L1557.1,2066.9 L1558.2,2067.9 L1559.3,2068.9 L1560.4,2069.9 L1561.5,2070.9 L1562.6,2071.9 L1563.8,2072.9 L1564.9,2073.9 L1566.0,2074.9 L1567.1,2075.9 L1568.2,2076.9 L1569.3,2077.9 L1570.5,2078.9 L1571.6,2079.8 L1572.7,2080.8 L1573.9,2081.7 L1575.0,2082.7 L1576.2,2083.6 L1577.4,2084.5 L1578.5,2085.4 L1579.7,2086.2 L1580.9,2087.1 L1582.2,2087.9 L1583.4,2088.7 L1584.6,2089.5 L1585.9,2090.2 L1587.2,2091.0 L1588.5,2091.6 L1589.8,2092.3 L1591.1,2092.9 L1592.5,2093.5 L1593.8,2094.1 L1595.2,2094.6 L1596.6,2095.1 L1598.1,2095.4 L1599.6,2095.4 L1601.1,2095.3 L1602.6,2095.2 L1604.1,2095.0 L1605.7,2094.8 L1607.2,2094.6 L1608.7,2094.5 L1610.2,2094.4 L1611.7,2094.5 L1613.3,2094.7 L1614.8,2094.8 L1616.3,2095.0 L1617.8,2095.2 L1619.3,2095.3 L1620.9,2095.4 L1622.4,2095.6 L1622.9,2095.6"/>
</g>
<path d="M253.7,1143.8 H1620.7 V2103.8 H253.7 Z M253.7,2103.8 v20.3 M299.3,2103.8 v10.9 M344.8,2103.8 v10.9 M390.4,2103.8 v10.9 M436.0,2103.8 v10.9 M481.5,2103.8 v20.3 M527.1,2103.8 v10.9 M572.7,2103.8 v10.9 M618.2,2103.8 v10.9 M663.8,2103.8 v10.9 M709.4,2103.8 v20.3 M754.9,2103.8 v10.9 M800.5,2103.8 v10.9 M846.1,2103.8 v10.9 M891.6,2103.8 v10.9 M937.2,2103.8 v20.3 M982.8,2103.8 v10.9 M1028.3,2103.8 v10.9 M1073.9,2103.8 v10.9 M1119.5,2103.8 v10.9 M1165.0,2103.8 v20.3 M1210.6,2103.8 v10.9 M1256.2,2103.8 v10.9 M1301.7,2103.8 v10.9 M1347.3,2103.8 v10.9 M1392.9,2103.8 v20.3 M1438.4,2103.8 v10.9 M1484.0,2103.8 v10.9 M1529.6,2103.8 v10.9 M1575.1,2103.8 v10.9 M1620.7,2103.8 v20.3 M253.7,2095.0 h-19.1 M253.7,2008.5 h-10.3 M253.7,1922.0 h-19.1 M253.7,1835.4 h-10.3 M253.7,1748.9 h-19.1 M253.7,1662.4 h-10.3 M253.7,1575.9 h-19.1 M253.7,1489.4 h-10.3 M253.7,1402.8 h-19.1 M253.7,1316.3 h-10.3 M253.7,1229.8 h-19.1 M253.7,1143.3 h-10.3" fill="none" stroke="#000" stroke-width="2.6" stroke-linecap="butt" stroke-linejoin="miter"/>
<g font-size="56.6" text-anchor="middle">
<text transform="translate(253.2,2179.5) scale(1,1.05)">300</text>
<text transform="translate(481.0,2179.5) scale(1,1.05)">400</text>
<text transform="translate(708.9,2179.5) scale(1,1.05)">500</text>
<text transform="translate(936.7,2179.5) scale(1,1.05)">600</text>
<text transform="translate(1164.5,2179.5) scale(1,1.05)">700</text>
<text transform="translate(1392.4,2179.5) scale(1,1.05)">800</text>
<text transform="translate(1620.2,2179.5) scale(1,1.05)">900</text>
</g>
<g font-size="56.6" text-anchor="end">
<text transform="translate(221.3,2110.7) scale(1,1.05)">0.0</text>
<text transform="translate(221.3,1938.0) scale(1,1.05)">0.2</text>
<text transform="translate(221.3,1765.2) scale(1,1.05)">0.4</text>
<text transform="translate(221.3,1592.5) scale(1,1.05)">0.6</text>
<text transform="translate(221.3,1419.7) scale(1,1.05)">0.8</text>
<text transform="translate(221.3,1247.0) scale(1,1.05)">1.0</text>
</g>
<text x="299.5" y="1228.0" font-size="62">(b)</text>
<text class="b" font-size="61.5" text-anchor="middle" transform="translate(81.2,1620.8) rotate(-90)">Normalized absorbance (au)</text>
<g fill="none" stroke-width="10.8" stroke-linecap="round"><path stroke="#000" d="M559.3,1821.4 H686.9"/><path stroke="#f00" d="M559.3,1892.2 H686.9"/></g>
<text class="b" font-size="56" transform="translate(702.8,1840.5) scale(1,1)">PBDTS-ID</text>
<text class="b" font-size="56" transform="translate(702.8,1911.2) scale(1,1)">PBDTS-DTNT</text>
</g>
<text class="b" font-size="60.2" text-anchor="middle" x="920.6" y="2269.8">Wavelength (nm)</text>
</svg></body></html>
